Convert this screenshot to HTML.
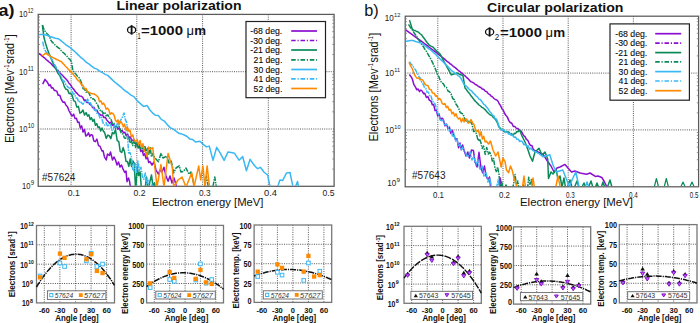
<!DOCTYPE html>
<html><head><meta charset="utf-8"><style>
html,body{margin:0;padding:0;background:#fff;width:700px;height:323px;overflow:hidden}
svg{display:block}
text{font-family:"Liberation Sans", sans-serif}
</style></head><body>
<svg width="700" height="323" viewBox="0 0 700 323">
<rect width="700" height="323" fill="#fff"/>
<line x1="71.1" y1="14.4" x2="71.1" y2="186.3" stroke="#444" stroke-width="0.9" stroke-dasharray="1,1.2"/>
<line x1="136.8" y1="14.4" x2="136.8" y2="186.3" stroke="#444" stroke-width="0.9" stroke-dasharray="1,1.2"/>
<line x1="202.6" y1="14.4" x2="202.6" y2="186.3" stroke="#444" stroke-width="0.9" stroke-dasharray="1,1.2"/>
<line x1="268.3" y1="14.4" x2="268.3" y2="186.3" stroke="#444" stroke-width="0.9" stroke-dasharray="1,1.2"/>
<line x1="38.2" y1="71.7" x2="334.1" y2="71.7" stroke="#444" stroke-width="0.9" stroke-dasharray="1,1.2"/>
<line x1="38.2" y1="129.0" x2="334.1" y2="129.0" stroke="#444" stroke-width="0.9" stroke-dasharray="1,1.2"/>
<rect x="38.2" y="14.4" width="295.90000000000003" height="171.9" fill="none" stroke="#5a5a5a" stroke-width="1.25"/>
<line x1="38.2" y1="169.1" x2="40.0" y2="169.1" stroke="#777" stroke-width="0.8"/>
<line x1="334.1" y1="169.1" x2="332.3" y2="169.1" stroke="#777" stroke-width="0.8"/>
<line x1="38.2" y1="159.0" x2="40.0" y2="159.0" stroke="#777" stroke-width="0.8"/>
<line x1="334.1" y1="159.0" x2="332.3" y2="159.0" stroke="#777" stroke-width="0.8"/>
<line x1="38.2" y1="151.8" x2="40.0" y2="151.8" stroke="#777" stroke-width="0.8"/>
<line x1="334.1" y1="151.8" x2="332.3" y2="151.8" stroke="#777" stroke-width="0.8"/>
<line x1="38.2" y1="146.2" x2="40.0" y2="146.2" stroke="#777" stroke-width="0.8"/>
<line x1="334.1" y1="146.2" x2="332.3" y2="146.2" stroke="#777" stroke-width="0.8"/>
<line x1="38.2" y1="141.7" x2="40.0" y2="141.7" stroke="#777" stroke-width="0.8"/>
<line x1="334.1" y1="141.7" x2="332.3" y2="141.7" stroke="#777" stroke-width="0.8"/>
<line x1="38.2" y1="137.9" x2="40.0" y2="137.9" stroke="#777" stroke-width="0.8"/>
<line x1="334.1" y1="137.9" x2="332.3" y2="137.9" stroke="#777" stroke-width="0.8"/>
<line x1="38.2" y1="134.6" x2="40.0" y2="134.6" stroke="#777" stroke-width="0.8"/>
<line x1="334.1" y1="134.6" x2="332.3" y2="134.6" stroke="#777" stroke-width="0.8"/>
<line x1="38.2" y1="131.6" x2="40.0" y2="131.6" stroke="#777" stroke-width="0.8"/>
<line x1="334.1" y1="131.6" x2="332.3" y2="131.6" stroke="#777" stroke-width="0.8"/>
<line x1="38.2" y1="111.8" x2="40.0" y2="111.8" stroke="#777" stroke-width="0.8"/>
<line x1="334.1" y1="111.8" x2="332.3" y2="111.8" stroke="#777" stroke-width="0.8"/>
<line x1="38.2" y1="101.7" x2="40.0" y2="101.7" stroke="#777" stroke-width="0.8"/>
<line x1="334.1" y1="101.7" x2="332.3" y2="101.7" stroke="#777" stroke-width="0.8"/>
<line x1="38.2" y1="94.5" x2="40.0" y2="94.5" stroke="#777" stroke-width="0.8"/>
<line x1="334.1" y1="94.5" x2="332.3" y2="94.5" stroke="#777" stroke-width="0.8"/>
<line x1="38.2" y1="88.9" x2="40.0" y2="88.9" stroke="#777" stroke-width="0.8"/>
<line x1="334.1" y1="88.9" x2="332.3" y2="88.9" stroke="#777" stroke-width="0.8"/>
<line x1="38.2" y1="84.4" x2="40.0" y2="84.4" stroke="#777" stroke-width="0.8"/>
<line x1="334.1" y1="84.4" x2="332.3" y2="84.4" stroke="#777" stroke-width="0.8"/>
<line x1="38.2" y1="80.6" x2="40.0" y2="80.6" stroke="#777" stroke-width="0.8"/>
<line x1="334.1" y1="80.6" x2="332.3" y2="80.6" stroke="#777" stroke-width="0.8"/>
<line x1="38.2" y1="77.3" x2="40.0" y2="77.3" stroke="#777" stroke-width="0.8"/>
<line x1="334.1" y1="77.3" x2="332.3" y2="77.3" stroke="#777" stroke-width="0.8"/>
<line x1="38.2" y1="74.3" x2="40.0" y2="74.3" stroke="#777" stroke-width="0.8"/>
<line x1="334.1" y1="74.3" x2="332.3" y2="74.3" stroke="#777" stroke-width="0.8"/>
<line x1="38.2" y1="54.5" x2="40.0" y2="54.5" stroke="#777" stroke-width="0.8"/>
<line x1="334.1" y1="54.5" x2="332.3" y2="54.5" stroke="#777" stroke-width="0.8"/>
<line x1="38.2" y1="44.4" x2="40.0" y2="44.4" stroke="#777" stroke-width="0.8"/>
<line x1="334.1" y1="44.4" x2="332.3" y2="44.4" stroke="#777" stroke-width="0.8"/>
<line x1="38.2" y1="37.2" x2="40.0" y2="37.2" stroke="#777" stroke-width="0.8"/>
<line x1="334.1" y1="37.2" x2="332.3" y2="37.2" stroke="#777" stroke-width="0.8"/>
<line x1="38.2" y1="31.6" x2="40.0" y2="31.6" stroke="#777" stroke-width="0.8"/>
<line x1="334.1" y1="31.6" x2="332.3" y2="31.6" stroke="#777" stroke-width="0.8"/>
<line x1="38.2" y1="27.1" x2="40.0" y2="27.1" stroke="#777" stroke-width="0.8"/>
<line x1="334.1" y1="27.1" x2="332.3" y2="27.1" stroke="#777" stroke-width="0.8"/>
<line x1="38.2" y1="23.3" x2="40.0" y2="23.3" stroke="#777" stroke-width="0.8"/>
<line x1="334.1" y1="23.3" x2="332.3" y2="23.3" stroke="#777" stroke-width="0.8"/>
<line x1="38.2" y1="20.0" x2="40.0" y2="20.0" stroke="#777" stroke-width="0.8"/>
<line x1="334.1" y1="20.0" x2="332.3" y2="20.0" stroke="#777" stroke-width="0.8"/>
<line x1="38.2" y1="17.0" x2="40.0" y2="17.0" stroke="#777" stroke-width="0.8"/>
<line x1="334.1" y1="17.0" x2="332.3" y2="17.0" stroke="#777" stroke-width="0.8"/>
<text x="-1.5" y="15.5" font-size="17" font-weight="bold" text-anchor="start" fill="#111" textLength="16" lengthAdjust="spacingAndGlyphs" >a)</text>
<text x="116.5" y="10.2" font-size="13.3" font-weight="bold" text-anchor="start" fill="#111" textLength="125" lengthAdjust="spacingAndGlyphs" >Linear polarization</text>
<ellipse cx="131.6" cy="29.9" rx="4.1" ry="3.3" fill="none" stroke="#111" stroke-width="1.3"/><line x1="131.6" y1="25.1" x2="131.6" y2="34.7" stroke="#111" stroke-width="1.8"/>
<text x="137.6" y="38.6" font-size="8.5" font-weight="normal" text-anchor="start" fill="#111" textLength="3.2" lengthAdjust="spacingAndGlyphs" font-family="Liberation Serif">1</text>
<text x="141" y="34.5" font-size="13" font-weight="bold" text-anchor="start" fill="#111" textLength="42" lengthAdjust="spacingAndGlyphs" >=1000</text>
<text x="186.5" y="34.5" font-size="12" font-weight="normal" text-anchor="start" fill="#111" textLength="7.5" lengthAdjust="spacingAndGlyphs" >μ</text>
<text x="194.3" y="34.5" font-size="13" font-weight="bold" text-anchor="start" fill="#111" textLength="11.8" lengthAdjust="spacingAndGlyphs" >m</text>
<text x="19" y="17" font-size="9.3" font-weight="normal" text-anchor="start" fill="#222" textLength="8.4" lengthAdjust="spacingAndGlyphs" >10</text>
<text x="27.7" y="13.094" font-size="6.324000000000001" font-weight="normal" text-anchor="start" fill="#222" textLength="5.8" lengthAdjust="spacingAndGlyphs" >12</text>
<text x="19" y="74.7" font-size="9.3" font-weight="normal" text-anchor="start" fill="#222" textLength="8.4" lengthAdjust="spacingAndGlyphs" >10</text>
<text x="27.7" y="70.794" font-size="6.324000000000001" font-weight="normal" text-anchor="start" fill="#222" textLength="6.2" lengthAdjust="spacingAndGlyphs" >11</text>
<text x="19" y="131.8" font-size="9.3" font-weight="normal" text-anchor="start" fill="#222" textLength="8.4" lengthAdjust="spacingAndGlyphs" >10</text>
<text x="27.7" y="127.894" font-size="6.324000000000001" font-weight="normal" text-anchor="start" fill="#222" textLength="6.5" lengthAdjust="spacingAndGlyphs" >10</text>
<text x="22" y="188.8" font-size="9.3" font-weight="normal" text-anchor="start" fill="#222" textLength="8.4" lengthAdjust="spacingAndGlyphs" >10</text>
<text x="30.7" y="184.894" font-size="6.324000000000001" font-weight="normal" text-anchor="start" fill="#222" textLength="3.4" lengthAdjust="spacingAndGlyphs" >9</text>
<text x="67.7" y="196" font-size="8.5" font-weight="normal" text-anchor="start" fill="#222" textLength="12.0" lengthAdjust="spacingAndGlyphs" >0.1</text>
<text x="133.5" y="196" font-size="8.5" font-weight="normal" text-anchor="start" fill="#222" textLength="12.0" lengthAdjust="spacingAndGlyphs" >0.2</text>
<text x="199" y="196" font-size="8.5" font-weight="normal" text-anchor="start" fill="#222" textLength="11.5" lengthAdjust="spacingAndGlyphs" >0.3</text>
<text x="264" y="196" font-size="8.5" font-weight="normal" text-anchor="start" fill="#222" textLength="13" lengthAdjust="spacingAndGlyphs" >0.4</text>
<text x="322.5" y="196" font-size="8.5" font-weight="normal" text-anchor="start" fill="#222" textLength="11.899999999999977" lengthAdjust="spacingAndGlyphs" >0.5</text>
<text x="152" y="205.5" font-size="11" font-weight="normal" text-anchor="start" fill="#111" textLength="111.5" lengthAdjust="spacingAndGlyphs" >Electron energy [MeV]</text>
<text x="42" y="180.9" font-size="10" font-weight="normal" text-anchor="start" fill="#222" textLength="33.4" lengthAdjust="spacingAndGlyphs" >#57624</text>
<g transform="translate(13.8,143) rotate(-90)">
<text x="0" y="0" font-size="12" font-weight="normal" text-anchor="start" fill="#111" textLength="73" lengthAdjust="spacingAndGlyphs" >Electrons [Mev</text>
<text x="73.5" y="-5" font-size="7" font-weight="normal" text-anchor="start" fill="#111" textLength="5" lengthAdjust="spacingAndGlyphs" >-1</text>
<text x="79" y="0" font-size="12" font-weight="normal" text-anchor="start" fill="#111" textLength="21" lengthAdjust="spacingAndGlyphs" >srad</text>
<text x="100.5" y="-5" font-size="7" font-weight="normal" text-anchor="start" fill="#111" textLength="5" lengthAdjust="spacingAndGlyphs" >-1</text>
<text x="105.5" y="0" font-size="12" font-weight="normal" text-anchor="start" fill="#111" textLength="3.5" lengthAdjust="spacingAndGlyphs" >]</text>
</g>
<clipPath id="ca"><rect x="38.8" y="14.4" width="294.7" height="171.4"/></clipPath><g clip-path="url(#ca)">
<polyline points="38.9,53.3 40.4,54.4 41.8,55.8 43.2,56.9 44.7,58.1 46.1,59.6 47.6,60.6 49.0,62.0 50.5,63.1 52.0,64.7 53.6,66.4 55.1,67.7 56.7,69.5 58.2,70.8 59.8,72.8 61.3,74.3 62.9,75.8 64.4,77.4 66.0,79.1 67.5,80.7 69.1,83.5 70.6,84.8 72.2,87.7 73.7,89.1 75.2,91.5 76.8,93.1 78.3,94.7 79.9,96.1 81.4,96.2 82.8,97.5 84.2,100.3 85.6,100.0 87.0,102.6 88.4,102.5 89.9,104.3 91.3,105.3 92.7,107.7 94.1,107.5 95.5,110.5 96.9,110.1 98.3,113.3 99.7,114.2 101.1,115.3 102.5,114.9 103.9,117.6 105.3,117.3 106.7,119.9 108.1,121.4 109.5,123.2 110.9,122.2 112.3,125.4 113.7,124.3 115.1,127.8 116.5,126.4 117.9,129.1 119.3,127.8 120.7,131.4 122.1,130.4 123.5,132.9 124.9,132.2 126.2,135.7 127.6,134.1 128.9,137.9 130.2,136.9 131.6,139.9 132.9,140.4 134.2,139.8 135.5,144.1 136.8,143.4 138.2,147.5 139.5,146.0 140.8,151.5 142.1,150.1 143.4,155.4 144.7,153.7 146.1,158.8 147.4,156.8 148.7,162.6 150.0,161.7 152.0,165.0 154.0,162.0 156.0,170.0 158.4,174.2 160.0,170.0 162.0,172.0 164.0,167.3 166.0,176.0 168.1,181.2 170.0,176.0 172.0,183.0 174.0,178.0 177.9,191.0" fill="none" stroke="#8a0fd0" stroke-width="1.5" stroke-linejoin="round" opacity="1"/>
<polyline points="42.7,84.1 45.0,79.4 46.3,80.9 47.7,82.8 49.0,85.7 50.3,84.9 51.6,88.1 52.9,87.8 54.3,90.4 55.6,90.6 56.9,91.4 58.2,95.3 59.8,95.3 61.3,99.4 62.9,102.2 64.4,101.9 66.0,105.3 67.5,106.7 69.1,111.0 70.6,113.7 72.2,116.0 73.7,114.2 75.0,118.6 76.4,118.2 77.7,122.4 79.0,122.0 80.3,128.1 81.7,125.9 83.0,132.0 84.5,129.5 85.8,136.1 87.2,135.1 88.5,132.8 89.8,136.4 91.1,134.6 92.5,135.2 93.8,140.8 95.3,141.7 96.9,139.1 98.5,145.6 100.0,146.2 102.0,151.0 103.1,150.8 104.5,157.0 106.2,160.0 107.5,154.0 109.3,155.5 110.5,152.0 112.5,160.0 114.0,157.0 115.5,160.0 117.0,165.0 118.5,162.0 120.0,167.0 121.5,165.0 123.2,169.4 124.7,172.5 126.0,171.0 127.0,181.7 128.5,178.0 129.5,181.0 131.0,191.0" fill="none" stroke="#8a0fd0" stroke-width="1.5" stroke-linejoin="round" opacity="1"/>
<polyline points="42.4,25.2 44.0,37.8 45.7,43.8 47.4,49.2 48.9,53.2 50.4,56.6 52.0,60.6 53.5,64.4 55.0,67.5 56.6,70.2 58.1,73.5 59.7,75.5 61.3,79.1 62.9,82.1 64.4,86.9 66.0,89.2 67.5,89.6 69.1,93.6 70.6,93.3 72.2,95.5 73.7,100.7 75.3,101.6 76.8,107.1 78.4,106.3 79.9,113.2 81.4,112.3 83.0,110.0 84.5,115.1 86.1,112.6 87.6,116.1 88.9,114.7 90.2,119.6 91.5,117.7 92.8,121.2 94.1,119.4 95.4,125.3 96.7,123.6 98.0,127.6 99.3,126.8 100.7,131.0 102.0,128.0 103.3,131.0 104.7,132.8 106.2,138.4 107.8,135.1 109.3,135.8 110.8,138.7 112.4,132.5 114.0,133.8 115.5,129.5 117.2,140.6 118.8,141.6 120.2,151.5 121.7,152.5 123.2,147.6 124.6,152.1 126.0,161.5 127.5,161.6 128.8,166.4 130.2,158.8 131.5,166.5 132.9,161.0 134.2,163.2 135.7,191.0 137.2,166.4 138.6,175.6 140.1,171.8 141.6,191.0 143.2,191.0 144.8,191.0 146.5,176.9 148.3,191.0 150.0,181.1 151.5,174.9 153.0,186.9 154.5,182.8 156.0,191.0" fill="none" stroke="#0a8a58" stroke-width="1.5" stroke-linejoin="round" opacity="1"/>
<polyline points="42.4,25.1 44.3,30.3 45.6,32.0 47.0,33.7 48.4,35.0 49.7,36.9 50.5,39.7 52.0,41.9 53.6,43.5 55.1,45.0 56.7,46.4 58.2,47.7 59.8,48.8 61.3,50.7 62.9,52.3 64.4,53.5 66.0,55.3 67.3,56.6 68.7,58.5 70.1,59.6 71.4,61.6 72.9,70.8 74.3,72.8 75.7,73.8 77.1,75.9 78.5,76.7 79.9,79.0 81.5,82.9 83.0,88.5 84.5,89.1 86.1,92.2 87.7,91.4 89.2,93.5 90.6,97.1 92.0,98.9 93.3,98.7 94.7,100.0 96.1,102.7 97.5,104.3 98.8,108.0 100.2,110.5 101.6,110.1 103.1,113.7 104.7,112.2 106.2,115.8 107.8,114.9 109.3,117.9 110.8,118.5 112.4,123.4 114.0,123.2 115.5,127.9 117.4,126.3 119.3,126.8 121.2,133.0 123.0,134.2 124.4,138.0 125.8,138.2 127.2,136.1 128.6,136.9 130.0,142.9 131.3,140.0 132.7,145.6 134.1,141.3 135.5,147.5 136.9,142.2 138.3,147.9 139.6,144.8 140.9,148.7 142.3,146.5 143.6,151.8 144.9,145.7 146.2,152.9 147.5,148.3 148.8,154.2 150.2,147.8 151.5,156.9 152.8,153.4 155.0,158.0 158.4,161.7 161.0,153.4 163.0,158.0 166.7,156.1 169.0,163.0 171.0,160.0 173.7,172.9 176.0,168.0 179.2,165.9 181.0,172.0 183.4,171.5 186.0,168.0 189.0,174.2 191.0,172.0 193.2,181.2 196.0,191.0 204.0,191.0 206.4,176.0 209.0,191.0 212.0,191.0 214.8,177.0 217.0,191.0" fill="none" stroke="#0a8a58" stroke-width="1.5" stroke-linejoin="round" stroke-dasharray="5,1,1.5,1" opacity="1"/>
<polyline points="38.4,34.4 41.3,34.6 44.3,34.8 47.1,35.2 49.9,36.5 52.6,37.3 55.4,38.2 58.2,38.7 61.0,40.7 63.8,43.0 66.6,45.4 69.4,47.0 72.2,49.3 75.0,51.7 77.9,54.6 80.7,57.3 83.5,59.4 86.4,62.4 89.2,64.1 91.8,66.4 94.3,68.1 96.9,69.1 99.6,71.1 102.3,72.5 105.1,74.4 107.8,75.4 110.6,78.1 113.4,80.9 116.1,83.2 118.9,85.4 121.7,87.7 124.8,90.6 127.8,92.5 130.9,95.1 134.0,96.7 137.0,100.6 140.2,103.4 143.4,106.4 147.2,105.6 149.9,110.0 152.7,113.1 155.5,115.3 158.3,115.5 161.3,119.4 164.3,121.1 167.2,124.6 170.2,127.6 173.2,129.2 176.0,131.2 178.8,133.3 181.5,133.9 184.3,135.0 187.1,136.5 189.9,139.1 192.7,139.6 195.5,142.0 200.0,141.2 203.2,144.4 206.5,146.9 209.3,146.1 213.0,160.4 216.7,147.3 220.4,153.3 224.1,160.4 227.9,152.0 231.2,152.6 234.4,153.2 239.0,160.2 242.7,156.6 246.4,170.8 250.1,159.3 252.6,163.0 255.1,166.3 257.6,168.7 260.4,167.3 264.1,172.2 267.8,175.3 270.6,190.1 273.4,191.1 276.2,191.3 279.9,180.0 282.6,180.6 286.4,173.1 290.0,172.5 293.8,190.8 297.5,181.5 299.4,191.0" fill="none" stroke="#3ab8f4" stroke-width="1.5" stroke-linejoin="round" opacity="1"/>
<polyline points="42.7,41.7 44.3,49.1 45.8,51.4 47.4,53.3 49.0,55.0 50.5,57.1 52.0,59.7 53.6,62.7 55.1,65.3 56.7,68.4 58.2,70.7 59.8,74.5 61.3,76.7 62.9,80.7 64.4,81.1 66.0,84.7 67.5,86.6 69.1,88.0 70.6,88.2 71.9,90.4 73.3,94.3 74.7,93.9 76.0,98.1 77.3,98.3 78.7,102.1 80.1,101.1 81.4,102.9 83.0,104.2 84.5,101.7 86.0,102.1 87.6,99.1 89.0,103.4 90.4,102.8 91.7,106.3 93.1,105.9 94.5,110.3 95.9,109.8 97.2,114.0 98.6,113.9 100.0,118.1 101.5,117.3 103.1,123.0 104.7,125.1 106.2,122.7 107.7,126.6 109.1,124.2 110.5,124.4 112.0,130.2 113.4,128.4 114.7,125.1 116.1,127.4 117.5,122.9 118.8,125.6 120.2,120.8 122.1,117.9 124.0,112.9 125.3,119.4 126.7,122.6 128.6,153.0 129.9,152.5 131.3,156.4 132.7,169.2 134.0,170.7 135.3,163.6 136.6,172.3 137.9,161.0 139.4,170.5 140.9,167.2 142.3,176.5 143.8,179.3 145.3,173.0 146.7,184.5 148.0,180.2 149.4,187.6 150.8,191.0 152.1,184.2 153.5,191.0" fill="none" stroke="#3ab8f4" stroke-width="1.5" stroke-linejoin="round" stroke-dasharray="5,1,1.5,1" opacity="1"/>
<polyline points="42.0,55.7 43.9,54.6 45.8,53.0 47.4,54.5 49.0,55.4 50.5,56.4 52.0,57.0 53.5,58.0 55.0,58.5 56.6,59.5 58.1,60.0 59.7,61.1 61.3,61.5 62.7,63.4 64.2,64.6 65.6,66.5 67.1,67.7 68.5,69.7 70.0,70.6 71.4,72.7 72.8,73.5 74.2,75.8 75.5,76.9 76.9,79.2 78.3,80.6 79.8,81.6 81.4,84.7 82.9,85.3 84.5,88.6 86.0,88.4 87.4,91.3 88.7,92.3 90.1,92.9 91.5,93.7 92.8,93.7 94.2,94.0 95.5,94.8 96.9,96.0 98.2,97.3 99.6,101.7 100.9,100.9 102.2,104.3 103.5,103.1 104.9,105.5 106.2,109.2 107.5,108.1 108.8,109.9 110.1,114.4 111.5,112.8 112.8,113.5 114.1,115.2 115.4,120.3 116.7,121.8 118.0,119.8 119.3,124.3 120.7,121.5 122.0,123.3 123.3,126.8 124.6,124.1 126.0,130.2 127.3,126.7 128.6,131.0 130.0,130.2 131.4,136.8 132.8,134.9 134.2,140.4 135.7,141.7 137.2,139.7 138.6,144.6 140.1,140.4 141.6,147.7 142.9,143.7 144.3,150.7 145.7,152.1 147.0,156.7 148.5,146.9 150.0,149.0 152.8,147.8 157.0,187.0 161.0,164.5 164.0,187.0 168.1,153.4 172.3,167.3 173.7,187.0 178.0,180.0 182.0,177.0 186.0,187.0 191.8,172.9 194.0,187.0 198.7,165.9 200.7,180.0 202.9,165.9 205.0,187.0 207.1,165.9 210.0,191.0" fill="none" stroke="#ff8a00" stroke-width="1.5" stroke-linejoin="round" opacity="1"/>
</g>
<rect x="246" y="21.5" width="79.5" height="76.2" fill="#fff" stroke="#222" stroke-width="1.2"/>
<text x="250.3" y="34.3" font-size="9.8" font-weight="normal" text-anchor="start" fill="#000" textLength="32" lengthAdjust="spacingAndGlyphs" stroke="#333" stroke-width="0.12">-68 deg.</text>
<line x1="291.2" y1="31" x2="317" y2="31" stroke="#8a0fd0" stroke-width="1.7"/>
<text x="250.3" y="43.8" font-size="9.8" font-weight="normal" text-anchor="start" fill="#000" textLength="32" lengthAdjust="spacingAndGlyphs" stroke="#333" stroke-width="0.12">-30 deg.</text>
<line x1="291.2" y1="40.5" x2="317" y2="40.5" stroke="#8a0fd0" stroke-width="1.7" stroke-dasharray="4.5,1.8,1.2,1.8"/>
<text x="250.3" y="53.3" font-size="9.8" font-weight="normal" text-anchor="start" fill="#000" textLength="32" lengthAdjust="spacingAndGlyphs" stroke="#333" stroke-width="0.12">-21 deg.</text>
<line x1="291.2" y1="50" x2="317" y2="50" stroke="#0a8a58" stroke-width="1.7"/>
<text x="253.60000000000002" y="63.099999999999994" font-size="9.8" font-weight="normal" text-anchor="start" fill="#000" textLength="28.7" lengthAdjust="spacingAndGlyphs" stroke="#333" stroke-width="0.12">21 deg.</text>
<line x1="291.2" y1="59.8" x2="317" y2="59.8" stroke="#0a8a58" stroke-width="1.7" stroke-dasharray="4.5,1.8,1.2,1.8"/>
<text x="253.60000000000002" y="72.8" font-size="9.8" font-weight="normal" text-anchor="start" fill="#000" textLength="28.7" lengthAdjust="spacingAndGlyphs" stroke="#333" stroke-width="0.12">30 deg.</text>
<line x1="291.2" y1="69.5" x2="317" y2="69.5" stroke="#3ab8f4" stroke-width="1.7"/>
<text x="253.60000000000002" y="82.2" font-size="9.8" font-weight="normal" text-anchor="start" fill="#000" textLength="28.7" lengthAdjust="spacingAndGlyphs" stroke="#333" stroke-width="0.12">41 deg.</text>
<line x1="291.2" y1="78.9" x2="317" y2="78.9" stroke="#3ab8f4" stroke-width="1.7" stroke-dasharray="4.5,1.8,1.2,1.8"/>
<text x="253.60000000000002" y="91.8" font-size="9.8" font-weight="normal" text-anchor="start" fill="#000" textLength="28.7" lengthAdjust="spacingAndGlyphs" stroke="#333" stroke-width="0.12">52 deg.</text>
<line x1="291.2" y1="88.5" x2="317" y2="88.5" stroke="#ff8a00" stroke-width="1.7"/>
<line x1="437.8" y1="16.2" x2="437.8" y2="186.8" stroke="#444" stroke-width="0.9" stroke-dasharray="1,1.2"/>
<line x1="503.0" y1="16.2" x2="503.0" y2="186.8" stroke="#444" stroke-width="0.9" stroke-dasharray="1,1.2"/>
<line x1="568.2" y1="16.2" x2="568.2" y2="186.8" stroke="#444" stroke-width="0.9" stroke-dasharray="1,1.2"/>
<line x1="633.4" y1="16.2" x2="633.4" y2="186.8" stroke="#444" stroke-width="0.9" stroke-dasharray="1,1.2"/>
<line x1="405.2" y1="73.1" x2="698.6" y2="73.1" stroke="#444" stroke-width="0.9" stroke-dasharray="1,1.2"/>
<line x1="405.2" y1="129.9" x2="698.6" y2="129.9" stroke="#444" stroke-width="0.9" stroke-dasharray="1,1.2"/>
<rect x="405.2" y="16.2" width="293.40000000000003" height="170.60000000000002" fill="none" stroke="#5a5a5a" stroke-width="1.25"/>
<line x1="405.2" y1="169.7" x2="407.0" y2="169.7" stroke="#777" stroke-width="0.8"/>
<line x1="698.6" y1="169.7" x2="696.8000000000001" y2="169.7" stroke="#777" stroke-width="0.8"/>
<line x1="405.2" y1="159.7" x2="407.0" y2="159.7" stroke="#777" stroke-width="0.8"/>
<line x1="698.6" y1="159.7" x2="696.8000000000001" y2="159.7" stroke="#777" stroke-width="0.8"/>
<line x1="405.2" y1="152.6" x2="407.0" y2="152.6" stroke="#777" stroke-width="0.8"/>
<line x1="698.6" y1="152.6" x2="696.8000000000001" y2="152.6" stroke="#777" stroke-width="0.8"/>
<line x1="405.2" y1="147.1" x2="407.0" y2="147.1" stroke="#777" stroke-width="0.8"/>
<line x1="698.6" y1="147.1" x2="696.8000000000001" y2="147.1" stroke="#777" stroke-width="0.8"/>
<line x1="405.2" y1="142.5" x2="407.0" y2="142.5" stroke="#777" stroke-width="0.8"/>
<line x1="698.6" y1="142.5" x2="696.8000000000001" y2="142.5" stroke="#777" stroke-width="0.8"/>
<line x1="405.2" y1="138.7" x2="407.0" y2="138.7" stroke="#777" stroke-width="0.8"/>
<line x1="698.6" y1="138.7" x2="696.8000000000001" y2="138.7" stroke="#777" stroke-width="0.8"/>
<line x1="405.2" y1="135.4" x2="407.0" y2="135.4" stroke="#777" stroke-width="0.8"/>
<line x1="698.6" y1="135.4" x2="696.8000000000001" y2="135.4" stroke="#777" stroke-width="0.8"/>
<line x1="405.2" y1="132.5" x2="407.0" y2="132.5" stroke="#777" stroke-width="0.8"/>
<line x1="698.6" y1="132.5" x2="696.8000000000001" y2="132.5" stroke="#777" stroke-width="0.8"/>
<line x1="405.2" y1="112.8" x2="407.0" y2="112.8" stroke="#777" stroke-width="0.8"/>
<line x1="698.6" y1="112.8" x2="696.8000000000001" y2="112.8" stroke="#777" stroke-width="0.8"/>
<line x1="405.2" y1="102.8" x2="407.0" y2="102.8" stroke="#777" stroke-width="0.8"/>
<line x1="698.6" y1="102.8" x2="696.8000000000001" y2="102.8" stroke="#777" stroke-width="0.8"/>
<line x1="405.2" y1="95.7" x2="407.0" y2="95.7" stroke="#777" stroke-width="0.8"/>
<line x1="698.6" y1="95.7" x2="696.8000000000001" y2="95.7" stroke="#777" stroke-width="0.8"/>
<line x1="405.2" y1="90.2" x2="407.0" y2="90.2" stroke="#777" stroke-width="0.8"/>
<line x1="698.6" y1="90.2" x2="696.8000000000001" y2="90.2" stroke="#777" stroke-width="0.8"/>
<line x1="405.2" y1="85.7" x2="407.0" y2="85.7" stroke="#777" stroke-width="0.8"/>
<line x1="698.6" y1="85.7" x2="696.8000000000001" y2="85.7" stroke="#777" stroke-width="0.8"/>
<line x1="405.2" y1="81.9" x2="407.0" y2="81.9" stroke="#777" stroke-width="0.8"/>
<line x1="698.6" y1="81.9" x2="696.8000000000001" y2="81.9" stroke="#777" stroke-width="0.8"/>
<line x1="405.2" y1="78.6" x2="407.0" y2="78.6" stroke="#777" stroke-width="0.8"/>
<line x1="698.6" y1="78.6" x2="696.8000000000001" y2="78.6" stroke="#777" stroke-width="0.8"/>
<line x1="405.2" y1="75.7" x2="407.0" y2="75.7" stroke="#777" stroke-width="0.8"/>
<line x1="698.6" y1="75.7" x2="696.8000000000001" y2="75.7" stroke="#777" stroke-width="0.8"/>
<line x1="405.2" y1="55.9" x2="407.0" y2="55.9" stroke="#777" stroke-width="0.8"/>
<line x1="698.6" y1="55.9" x2="696.8000000000001" y2="55.9" stroke="#777" stroke-width="0.8"/>
<line x1="405.2" y1="45.9" x2="407.0" y2="45.9" stroke="#777" stroke-width="0.8"/>
<line x1="698.6" y1="45.9" x2="696.8000000000001" y2="45.9" stroke="#777" stroke-width="0.8"/>
<line x1="405.2" y1="38.8" x2="407.0" y2="38.8" stroke="#777" stroke-width="0.8"/>
<line x1="698.6" y1="38.8" x2="696.8000000000001" y2="38.8" stroke="#777" stroke-width="0.8"/>
<line x1="405.2" y1="33.3" x2="407.0" y2="33.3" stroke="#777" stroke-width="0.8"/>
<line x1="698.6" y1="33.3" x2="696.8000000000001" y2="33.3" stroke="#777" stroke-width="0.8"/>
<line x1="405.2" y1="28.8" x2="407.0" y2="28.8" stroke="#777" stroke-width="0.8"/>
<line x1="698.6" y1="28.8" x2="696.8000000000001" y2="28.8" stroke="#777" stroke-width="0.8"/>
<line x1="405.2" y1="25.0" x2="407.0" y2="25.0" stroke="#777" stroke-width="0.8"/>
<line x1="698.6" y1="25.0" x2="696.8000000000001" y2="25.0" stroke="#777" stroke-width="0.8"/>
<line x1="405.2" y1="21.7" x2="407.0" y2="21.7" stroke="#777" stroke-width="0.8"/>
<line x1="698.6" y1="21.7" x2="696.8000000000001" y2="21.7" stroke="#777" stroke-width="0.8"/>
<line x1="405.2" y1="18.8" x2="407.0" y2="18.8" stroke="#777" stroke-width="0.8"/>
<line x1="698.6" y1="18.8" x2="696.8000000000001" y2="18.8" stroke="#777" stroke-width="0.8"/>
<text x="364.3" y="15.9" font-size="17" font-weight="normal" text-anchor="start" fill="#111" textLength="14.5" lengthAdjust="spacingAndGlyphs" >b)</text>
<text x="487" y="12" font-size="13.3" font-weight="bold" text-anchor="start" fill="#111" textLength="136.5" lengthAdjust="spacingAndGlyphs" >Circular polarization</text>
<ellipse cx="489.6" cy="32" rx="4.1" ry="3.3" fill="none" stroke="#111" stroke-width="1.3"/><line x1="489.6" y1="27.3" x2="489.6" y2="36.6" stroke="#111" stroke-width="1.8"/>
<text x="494.8" y="40.3" font-size="8.5" font-weight="normal" text-anchor="start" fill="#111" textLength="4.5" lengthAdjust="spacingAndGlyphs" font-family="Liberation Serif">2</text>
<text x="500" y="36.5" font-size="13" font-weight="bold" text-anchor="start" fill="#111" textLength="42" lengthAdjust="spacingAndGlyphs" >=1000</text>
<text x="545.5" y="36.5" font-size="12" font-weight="normal" text-anchor="start" fill="#111" textLength="7.5" lengthAdjust="spacingAndGlyphs" >μ</text>
<text x="553.3" y="36.5" font-size="13" font-weight="bold" text-anchor="start" fill="#111" textLength="11.9" lengthAdjust="spacingAndGlyphs" >m</text>
<text x="384.8" y="20.9" font-size="9.1" font-weight="normal" text-anchor="start" fill="#222" textLength="9" lengthAdjust="spacingAndGlyphs" >10</text>
<text x="394.1" y="17.078" font-size="6.188000000000001" font-weight="normal" text-anchor="start" fill="#222" textLength="6.3" lengthAdjust="spacingAndGlyphs" >12</text>
<text x="385" y="76.3" font-size="9.1" font-weight="normal" text-anchor="start" fill="#222" textLength="9" lengthAdjust="spacingAndGlyphs" >10</text>
<text x="394.3" y="72.478" font-size="6.188000000000001" font-weight="normal" text-anchor="start" fill="#222" textLength="5.8" lengthAdjust="spacingAndGlyphs" >11</text>
<text x="385" y="132.8" font-size="9.1" font-weight="normal" text-anchor="start" fill="#222" textLength="9" lengthAdjust="spacingAndGlyphs" >10</text>
<text x="394.3" y="128.978" font-size="6.188000000000001" font-weight="normal" text-anchor="start" fill="#222" textLength="6.2" lengthAdjust="spacingAndGlyphs" >10</text>
<text x="387.3" y="186" font-size="9.1" font-weight="normal" text-anchor="start" fill="#222" textLength="9" lengthAdjust="spacingAndGlyphs" >10</text>
<text x="396.6" y="182.178" font-size="6.188000000000001" font-weight="normal" text-anchor="start" fill="#222" textLength="3.5" lengthAdjust="spacingAndGlyphs" >9</text>
<text x="433" y="197.5" font-size="8.5" font-weight="normal" text-anchor="start" fill="#222" textLength="11" lengthAdjust="spacingAndGlyphs" >0.1</text>
<text x="499" y="197.5" font-size="8.5" font-weight="normal" text-anchor="start" fill="#222" textLength="11" lengthAdjust="spacingAndGlyphs" >0.2</text>
<text x="566" y="197.5" font-size="8.5" font-weight="normal" text-anchor="start" fill="#222" textLength="8.700000000000045" lengthAdjust="spacingAndGlyphs" >0.3</text>
<text x="629" y="197.5" font-size="8.5" font-weight="normal" text-anchor="start" fill="#222" textLength="8.799999999999955" lengthAdjust="spacingAndGlyphs" >0.4</text>
<text x="689.8" y="197.5" font-size="8.5" font-weight="normal" text-anchor="start" fill="#222" textLength="8.700000000000045" lengthAdjust="spacingAndGlyphs" >0.5</text>
<text x="520" y="206.2" font-size="11" font-weight="normal" text-anchor="start" fill="#111" textLength="113" lengthAdjust="spacingAndGlyphs" >Electron energy [MeV]</text>
<text x="412" y="178.5" font-size="10" font-weight="normal" text-anchor="start" fill="#222" textLength="33.5" lengthAdjust="spacingAndGlyphs" >#57643</text>
<g transform="translate(377.8,141.5) rotate(-90)">
<text x="0" y="0" font-size="12" font-weight="normal" text-anchor="start" fill="#111" textLength="73" lengthAdjust="spacingAndGlyphs" >Electrons [Mev</text>
<text x="73.5" y="-5" font-size="7" font-weight="normal" text-anchor="start" fill="#111" textLength="5" lengthAdjust="spacingAndGlyphs" >-1</text>
<text x="79" y="0" font-size="12" font-weight="normal" text-anchor="start" fill="#111" textLength="21" lengthAdjust="spacingAndGlyphs" >srad</text>
<text x="100.5" y="-5" font-size="7" font-weight="normal" text-anchor="start" fill="#111" textLength="5" lengthAdjust="spacingAndGlyphs" >-1</text>
<text x="105.5" y="0" font-size="12" font-weight="normal" text-anchor="start" fill="#111" textLength="3.5" lengthAdjust="spacingAndGlyphs" >]</text>
</g>
<clipPath id="cb"><rect x="405.8" y="16.2" width="292.2" height="170"/></clipPath><g clip-path="url(#cb)">
<polyline points="404.9,29.3 406.3,30.3 407.7,31.3 409.1,32.3 410.5,33.4 411.9,34.3 413.2,35.4 414.6,36.3 416.0,37.3 417.4,38.4 418.8,39.4 420.2,40.4 421.6,41.4 422.9,42.3 424.2,43.5 425.6,44.4 426.9,45.3 428.2,46.4 429.5,47.5 430.8,48.4 432.1,49.5 433.4,50.3 434.8,51.4 436.1,52.4 437.4,53.5 438.8,54.6 440.2,55.7 441.6,56.7 443.0,57.9 444.4,58.9 445.7,60.2 447.1,61.3 448.5,62.3 449.9,63.6 451.3,64.5 452.7,65.8 454.1,66.9 455.5,67.9 456.9,69.1 458.2,70.3 459.6,71.3 461.0,72.6 462.4,73.5 463.9,75.0 465.3,76.1 466.8,77.7 468.3,78.9 469.7,80.6 471.2,81.9 472.6,82.3 474.0,83.2 475.3,84.5 476.7,85.0 478.1,86.1 479.5,87.0 480.8,87.5 482.2,88.9 483.6,89.2 485.2,91.1 486.8,91.8 488.4,93.9 490.0,94.7 491.3,96.3 492.6,96.9 493.9,98.5 495.3,99.5 496.6,99.9 497.9,101.0 499.2,103.8 500.6,105.6 501.9,108.8 503.3,110.3 504.6,113.5 506.0,115.5 507.3,116.9 508.7,120.4 510.2,122.5 511.8,123.2 513.3,126.4 514.8,126.4 516.4,128.4 518.0,128.5 519.5,130.4 520.9,130.9 522.3,133.0 523.6,135.6 525.0,136.6 526.4,139.4 527.8,140.3 529.2,143.5 530.6,145.6 531.9,145.4 533.3,149.5 534.7,150.3 538.0,152.0 543.3,154.7 548.0,162.0 551.0,166.0 554.1,172.0 557.0,168.0 560.0,167.0 565.0,164.4 568.0,168.0 571.5,172.0 575.0,171.0 580.0,173.0 586.6,174.2 590.0,173.0 595.3,176.4 598.0,176.0 601.8,177.5 604.0,181.0 606.0,185.0 608.0,191.0" fill="none" stroke="#8a0fd0" stroke-width="1.5" stroke-linejoin="round" opacity="1"/>
<polyline points="409.3,74.5 410.9,76.4 412.4,79.2 413.9,84.7 415.5,87.1 416.8,89.8 418.2,89.0 419.5,91.6 420.8,90.0 422.1,91.0 423.5,93.7 424.8,93.2 426.4,97.4 427.9,96.6 429.4,100.4 431.0,101.0 432.3,104.8 433.7,104.6 435.0,110.5 436.3,110.1 437.7,115.9 439.0,113.8 440.5,120.1 442.0,118.1 443.4,119.6 444.9,125.8 446.4,124.1 447.9,128.3 449.4,127.0 450.9,133.4 452.4,130.4 453.9,135.8 455.5,139.3 457.0,138.8 458.6,147.8 460.0,142.9 461.3,149.8 462.6,144.9 464.0,150.0 466.0,156.0 467.8,152.0 469.5,158.0 471.5,150.0 473.4,150.4 475.0,162.0 477.1,167.0 479.0,152.3 481.0,168.0 482.7,172.7 484.5,166.0 486.0,176.0 488.2,180.0 489.5,177.0 491.0,191.0 499.0,191.0 500.3,178.0 502.0,191.0" fill="none" stroke="#8a0fd0" stroke-width="1.5" stroke-linejoin="round" opacity="1"/>
<polyline points="409.5,20.1 410.9,24.6 412.3,29.2 413.7,30.1 415.1,30.5 416.5,31.5 417.9,31.8 419.8,33.5 421.6,34.8 423.1,37.1 424.6,38.9 426.0,41.0 427.5,43.1 429.0,44.9 430.9,46.1 432.7,46.9 434.1,48.2 435.5,49.7 436.9,51.3 438.3,52.4 440.2,54.2 441.6,57.0 442.9,59.4 444.3,62.2 445.7,64.5 447.1,67.3 448.5,69.6 449.9,72.4 451.3,74.9 452.7,74.3 454.1,74.0 455.5,73.6 456.9,72.9 458.4,73.7 459.9,74.5 461.5,74.9 463.0,75.9 465.0,88.0 466.6,89.8 468.1,92.1 469.7,93.8 471.2,96.1 472.8,98.0 474.3,100.1 475.9,101.7 477.4,103.2 479.0,105.0 480.5,106.0 482.0,107.4 483.5,108.2 485.0,109.6 487.3,112.2 488.8,113.7 490.3,115.0 491.7,115.4 493.2,117.4 494.7,118.5 496.0,120.2 497.4,122.8 498.7,126.6 500.0,127.9 501.3,129.6 502.6,129.2 503.9,131.3 505.2,132.2 506.5,131.5 507.8,131.8 509.1,132.3 510.4,134.6 511.7,133.6 513.0,135.7 514.3,133.3 515.6,133.4 516.9,131.5 518.2,131.7 519.5,129.7 522.0,136.0 525.0,142.0 528.1,150.3 530.0,156.0 532.5,161.2 535.0,152.0 539.0,148.2 542.0,155.0 545.0,152.0 547.7,159.0 548.5,178.5 551.0,172.0 553.0,174.0 556.3,169.8 558.0,180.0 560.0,176.0 562.0,187.0 564.0,178.0 566.0,191.0 570.0,180.0 573.0,191.0 577.0,181.0 580.0,191.0 584.0,183.0 587.0,191.0 591.0,181.0 594.0,191.0 597.0,183.0 600.0,191.0 603.0,182.0 606.0,191.0 610.0,180.0 613.0,191.0" fill="none" stroke="#0a8a58" stroke-width="1.5" stroke-linejoin="round" opacity="1"/>
<polyline points="408.5,24.4 409.8,26.3 411.2,28.5 412.5,30.3 413.9,32.5 415.2,34.4 416.6,36.4 417.9,38.7 419.2,40.4 420.5,42.5 421.8,44.7 423.2,46.4 424.5,48.7 425.8,50.4 427.1,52.6 428.5,55.2 429.9,57.4 431.3,60.2 432.7,62.8 434.3,66.6 435.8,69.9 437.4,74.4 438.8,76.5 440.2,80.3 441.8,82.8 443.3,83.6 444.9,86.7 446.4,87.4 448.0,91.0 449.5,91.7 451.1,93.9 452.6,98.3 454.2,99.6 455.7,103.8 457.2,105.7 458.8,108.8 460.3,112.8 461.7,113.3 463.2,114.1 464.7,119.3 466.2,121.1 467.6,121.8 469.1,120.6 470.6,121.8 472.1,124.4 473.6,131.5 475.0,131.3 476.5,133.8 478.0,140.5 479.4,138.9 480.8,142.2 482.2,148.4 483.6,146.1 485.2,154.4 486.7,147.4 488.3,154.1 489.6,152.2 491.0,155.0 492.3,161.1 493.6,158.5 494.9,167.6 496.3,171.6 497.6,167.0 499.0,174.3 500.4,191.0 501.8,181.8 503.2,191.0 504.6,191.0 505.9,184.2 507.3,191.0 508.6,191.0 510.0,194.3 511.7,191.0 513.3,185.5 515.0,174.4 516.4,184.8 517.8,180.9 519.2,190.3 520.6,186.4 522.0,195.9 523.3,184.0 524.7,191.0 526.0,191.0 527.3,191.0 528.7,177.3 530.0,184.4 531.4,179.5 532.8,187.6 534.2,189.0 535.6,191.0 537.0,191.0" fill="none" stroke="#0a8a58" stroke-width="1.5" stroke-linejoin="round" stroke-dasharray="5,1,1.5,1" opacity="1"/>
<polyline points="654.4,186.5 656.4,178.5 658.4,186.5" fill="none" stroke="#0a8a58" stroke-width="1.2" stroke-linejoin="round" opacity="1"/>
<polyline points="664.3,186.5 666.3,178.5 668.3,186.5" fill="none" stroke="#0a8a58" stroke-width="1.2" stroke-linejoin="round" opacity="1"/>
<polyline points="681.0,186.5 683.0,182.0 685.0,186.5" fill="none" stroke="#0a8a58" stroke-width="1.2" stroke-linejoin="round" opacity="1"/>
<polyline points="690.0,186.5 692.0,182.0 694.0,186.5" fill="none" stroke="#0a8a58" stroke-width="1.2" stroke-linejoin="round" opacity="1"/>
<polyline points="404.9,41.4 406.4,41.2 407.9,41.0 409.3,40.8 410.8,40.6 412.3,40.4 413.6,40.8 415.0,41.3 416.3,41.7 417.6,42.0 418.9,42.5 420.3,42.8 421.6,43.3 423.0,44.2 424.4,45.4 425.8,46.4 427.1,47.4 428.5,48.5 429.9,49.4 431.3,50.5 432.7,51.6 434.2,53.1 435.7,54.5 437.2,56.1 438.7,57.5 440.2,59.1 441.6,60.4 443.0,61.8 444.4,63.1 445.8,64.7 447.1,65.9 448.5,67.3 449.9,68.9 451.3,70.3 452.6,71.3 454.0,72.2 455.3,73.5 456.6,74.2 457.9,75.6 459.3,76.4 460.6,77.7 462.3,80.8 464.0,84.5 465.5,85.6 467.1,86.8 468.6,88.8 470.2,90.2 471.7,91.0 473.2,93.1 474.6,94.2 476.1,96.0 477.6,97.1 479.0,99.1 480.5,99.7 482.0,101.7 483.6,104.1 485.1,105.2 486.7,107.3 488.2,108.9 489.6,111.5 491.0,112.7 492.4,115.2 493.8,115.7 495.2,118.7 496.6,119.3 498.3,123.9 500.0,129.2 501.4,129.9 502.9,129.7 504.3,130.3 505.7,132.6 507.1,131.8 508.6,134.1 510.0,133.3 511.4,135.3 512.8,135.1 514.1,137.3 515.5,137.0 516.9,139.3 518.3,139.2 519.7,141.5 521.0,140.9 522.4,141.6 523.8,144.8 525.2,144.2 526.7,146.4 528.1,145.8 529.6,149.2 531.0,148.0 532.5,150.3 538.0,153.0 543.3,156.8 549.8,154.7 553.0,165.0 556.3,172.0 562.8,170.0 566.0,178.0 569.3,187.0 572.0,180.0 575.8,172.0 578.0,182.0 580.0,191.0 584.0,191.0 587.0,182.0 590.0,191.0" fill="none" stroke="#3ab8f4" stroke-width="1.5" stroke-linejoin="round" opacity="1"/>
<polyline points="409.3,61.7 410.9,63.7 412.4,65.4 414.0,68.0 415.5,69.9 417.1,73.1 418.6,76.1 420.1,77.9 421.7,82.2 423.2,84.3 424.5,87.6 425.8,88.2 427.1,92.3 428.4,92.2 429.7,96.2 431.0,96.0 432.5,101.6 434.0,102.1 435.5,105.4 437.0,111.7 439.0,115.1 440.5,120.0 442.0,120.7 443.4,120.1 444.9,124.9 446.4,124.2 447.9,125.9 449.4,131.4 450.9,129.0 452.4,136.0 453.9,133.2 455.5,141.1 457.0,139.1 458.6,146.5 460.0,144.2 461.3,150.1 462.6,147.3 464.0,151.0 466.0,154.0 468.0,157.0 470.0,152.0 472.0,160.0 474.0,156.0 476.0,165.0 478.0,160.0 480.0,170.0 482.0,166.0 484.0,176.0 486.0,172.0 488.0,182.0 490.0,178.0 492.0,191.0 496.0,191.0 498.0,180.0 500.0,191.0" fill="none" stroke="#3ab8f4" stroke-width="1.5" stroke-linejoin="round" stroke-dasharray="5,1,1.5,1" opacity="1"/>
<polyline points="409.0,62.4 410.7,66.0 412.4,69.0 413.9,73.6 415.5,76.4 417.1,78.4 418.6,77.9 420.1,79.7 421.7,79.3 423.2,80.8 424.8,83.9 426.3,85.3 427.9,85.4 429.4,89.3 431.0,89.6 432.5,93.0 434.1,93.2 435.6,96.2 436.9,95.7 438.3,99.3 439.6,98.5 440.9,100.0 442.2,103.6 443.6,104.2 444.9,103.6 446.3,107.6 447.7,106.2 449.2,110.2 450.6,109.5 452.0,113.7 453.3,112.2 454.7,116.0 456.0,113.7 457.3,117.4 458.6,119.0 460.0,117.9 461.3,122.0 462.7,118.5 464.1,121.9 465.5,118.7 466.8,119.3 468.2,123.2 469.6,122.3 471.0,119.7 472.5,122.7 474.1,124.6 475.6,130.4 477.1,131.5 478.4,130.0 479.8,136.0 481.1,131.8 482.4,139.1 483.7,136.2 485.1,141.9 486.4,141.1 488.5,144.0 490.5,141.0 493.0,150.0 495.7,156.0 498.0,152.0 501.2,167.1 503.0,158.0 505.0,161.5 506.5,170.0 508.6,172.7 510.5,166.0 512.4,170.8 514.0,178.0 516.0,183.8 518.0,191.0 522.0,191.0 524.0,176.0 526.0,191.0 531.0,191.0 533.0,178.0 535.0,191.0 555.0,191.0 558.0,176.0 561.0,191.0" fill="none" stroke="#ff8a00" stroke-width="1.5" stroke-linejoin="round" opacity="1"/>
</g>
<rect x="610" y="23.9" width="79.39999999999998" height="76.30000000000001" fill="#fff" stroke="#222" stroke-width="1.2"/>
<text x="615.3" y="37.0" font-size="9.8" font-weight="normal" text-anchor="start" fill="#000" textLength="32" lengthAdjust="spacingAndGlyphs" stroke="#333" stroke-width="0.12">-68 deg.</text>
<line x1="655.2" y1="33.7" x2="681.2" y2="33.7" stroke="#8a0fd0" stroke-width="1.7"/>
<text x="615.3" y="46.4" font-size="9.8" font-weight="normal" text-anchor="start" fill="#000" textLength="32" lengthAdjust="spacingAndGlyphs" stroke="#333" stroke-width="0.12">-30 deg.</text>
<line x1="655.2" y1="43.1" x2="681.2" y2="43.1" stroke="#8a0fd0" stroke-width="1.7" stroke-dasharray="4.5,1.8,1.2,1.8"/>
<text x="615.3" y="55.9" font-size="9.8" font-weight="normal" text-anchor="start" fill="#000" textLength="32" lengthAdjust="spacingAndGlyphs" stroke="#333" stroke-width="0.12">-21 deg.</text>
<line x1="655.2" y1="52.6" x2="681.2" y2="52.6" stroke="#0a8a58" stroke-width="1.7"/>
<text x="618.5999999999999" y="65.1" font-size="9.8" font-weight="normal" text-anchor="start" fill="#000" textLength="28.7" lengthAdjust="spacingAndGlyphs" stroke="#333" stroke-width="0.12">21 deg.</text>
<line x1="655.2" y1="61.8" x2="681.2" y2="61.8" stroke="#0a8a58" stroke-width="1.7" stroke-dasharray="4.5,1.8,1.2,1.8"/>
<text x="618.5999999999999" y="74.89999999999999" font-size="9.8" font-weight="normal" text-anchor="start" fill="#000" textLength="28.7" lengthAdjust="spacingAndGlyphs" stroke="#333" stroke-width="0.12">30 deg.</text>
<line x1="655.2" y1="71.6" x2="681.2" y2="71.6" stroke="#3ab8f4" stroke-width="1.7"/>
<text x="618.5999999999999" y="84.3" font-size="9.8" font-weight="normal" text-anchor="start" fill="#000" textLength="28.7" lengthAdjust="spacingAndGlyphs" stroke="#333" stroke-width="0.12">41 deg.</text>
<line x1="655.2" y1="81" x2="681.2" y2="81" stroke="#3ab8f4" stroke-width="1.7" stroke-dasharray="4.5,1.8,1.2,1.8"/>
<text x="618.5999999999999" y="94.0" font-size="9.8" font-weight="normal" text-anchor="start" fill="#000" textLength="28.7" lengthAdjust="spacingAndGlyphs" stroke="#333" stroke-width="0.12">52 deg.</text>
<line x1="655.2" y1="90.7" x2="681.2" y2="90.7" stroke="#ff8a00" stroke-width="1.7"/>
<line x1="44.3" y1="225.5" x2="44.3" y2="302.9" stroke="#444" stroke-width="0.9" stroke-dasharray="1,1.3"/>
<line x1="59.9" y1="225.5" x2="59.9" y2="302.9" stroke="#444" stroke-width="0.9" stroke-dasharray="1,1.3"/>
<line x1="75.5" y1="225.5" x2="75.5" y2="302.9" stroke="#444" stroke-width="0.9" stroke-dasharray="1,1.3"/>
<line x1="91.1" y1="225.5" x2="91.1" y2="302.9" stroke="#444" stroke-width="0.9" stroke-dasharray="1,1.3"/>
<line x1="106.7" y1="225.5" x2="106.7" y2="302.9" stroke="#444" stroke-width="0.9" stroke-dasharray="1,1.3"/>
<line x1="36.5" y1="244.8" x2="114.5" y2="244.8" stroke="#444" stroke-width="0.9" stroke-dasharray="1,1.3"/>
<line x1="36.5" y1="264.2" x2="114.5" y2="264.2" stroke="#444" stroke-width="0.9" stroke-dasharray="1,1.3"/>
<line x1="36.5" y1="283.5" x2="114.5" y2="283.5" stroke="#444" stroke-width="0.9" stroke-dasharray="1,1.3"/>
<rect x="36.5" y="225.5" width="78.0" height="77.39999999999998" fill="none" stroke="#777" stroke-width="1.3"/>
<text x="20.3" y="229.0" font-size="8.3" font-weight="bold" text-anchor="start" fill="#111" textLength="7.6" lengthAdjust="spacingAndGlyphs" >10</text>
<text x="28.2" y="225.514" font-size="5.644000000000001" font-weight="bold" text-anchor="start" fill="#111" textLength="5.6" lengthAdjust="spacingAndGlyphs" >12</text>
<text x="20.3" y="248.35" font-size="8.3" font-weight="bold" text-anchor="start" fill="#111" textLength="7.6" lengthAdjust="spacingAndGlyphs" >10</text>
<text x="28.2" y="244.864" font-size="5.644000000000001" font-weight="bold" text-anchor="start" fill="#111" textLength="5.6" lengthAdjust="spacingAndGlyphs" >11</text>
<text x="20.3" y="267.7" font-size="8.3" font-weight="bold" text-anchor="start" fill="#111" textLength="7.6" lengthAdjust="spacingAndGlyphs" >10</text>
<text x="28.2" y="264.214" font-size="5.644000000000001" font-weight="bold" text-anchor="start" fill="#111" textLength="5.6" lengthAdjust="spacingAndGlyphs" >10</text>
<text x="22" y="287.04999999999995" font-size="8.3" font-weight="bold" text-anchor="start" fill="#111" textLength="7.6" lengthAdjust="spacingAndGlyphs" >10</text>
<text x="29.900000000000002" y="283.56399999999996" font-size="5.644000000000001" font-weight="bold" text-anchor="start" fill="#111" textLength="3" lengthAdjust="spacingAndGlyphs" >9</text>
<text x="22" y="306.4" font-size="8.3" font-weight="bold" text-anchor="start" fill="#111" textLength="7.6" lengthAdjust="spacingAndGlyphs" >10</text>
<text x="29.900000000000002" y="302.914" font-size="5.644000000000001" font-weight="bold" text-anchor="start" fill="#111" textLength="3" lengthAdjust="spacingAndGlyphs" >8</text>
<polyline points="36.5,287.0 37.8,284.8 39.1,282.8 40.4,280.8 41.7,278.9 43.0,277.1 44.3,275.3 45.6,273.6 46.9,272.0 48.2,270.4 49.5,268.9 50.8,267.5 52.1,266.2 53.4,264.9 54.7,263.7 56.0,262.6 57.3,261.5 58.6,260.5 59.9,259.6 61.2,258.8 62.5,258.0 63.8,257.3 65.1,256.7 66.4,256.1 67.7,255.6 69.0,255.2 70.3,254.9 71.6,254.6 72.9,254.4 74.2,254.2 75.5,254.2 76.8,254.2 78.1,254.3 79.4,254.4 80.7,254.6 82.0,254.9 83.3,255.3 84.6,255.7 85.9,256.2 87.2,256.8 88.5,257.5 89.8,258.2 91.1,259.0 92.4,259.8 93.7,260.8 95.0,261.8 96.3,262.8 97.6,264.0 98.9,265.2 100.2,266.5 101.5,267.8 102.8,269.3 104.1,270.8 105.4,272.3 106.7,274.0 108.0,275.7 109.3,277.5 110.6,279.3 111.9,281.3 113.2,283.3 114.5,285.3" fill="none" stroke="#111" stroke-width="1.5" stroke-linejoin="round" stroke-dasharray="6,1,1.2,1" opacity="1"/>
<rect x="38.34" y="274.20" width="3.6" height="3.6" fill="#fff" stroke="#3ab8f4" stroke-width="1.0"/>
<rect x="38.0" y="275.2" width="4.3" height="4.3" fill="#ff8a00"/>
<rect x="58.10" y="261.20" width="3.6" height="3.6" fill="#fff" stroke="#3ab8f4" stroke-width="1.0"/>
<rect x="57.8" y="251.5" width="4.3" height="4.3" fill="#ff8a00"/>
<rect x="62.78" y="264.70" width="3.6" height="3.6" fill="#fff" stroke="#3ab8f4" stroke-width="1.0"/>
<rect x="62.4" y="255.7" width="4.3" height="4.3" fill="#ff8a00"/>
<rect x="84.62" y="259.10" width="3.6" height="3.6" fill="#fff" stroke="#3ab8f4" stroke-width="1.0"/>
<rect x="84.3" y="257.1" width="4.3" height="4.3" fill="#ff8a00"/>
<rect x="89.30" y="251.40" width="3.6" height="3.6" fill="#fff" stroke="#3ab8f4" stroke-width="1.0"/>
<rect x="88.9" y="252.0" width="4.3" height="4.3" fill="#ff8a00"/>
<rect x="95.02" y="264.70" width="3.6" height="3.6" fill="#fff" stroke="#3ab8f4" stroke-width="1.0"/>
<rect x="94.7" y="268.8" width="4.3" height="4.3" fill="#ff8a00"/>
<rect x="100.74" y="262.20" width="3.6" height="3.6" fill="#fff" stroke="#3ab8f4" stroke-width="1.0"/>
<rect x="100.4" y="270.9" width="4.3" height="4.3" fill="#ff8a00"/>
<rect x="47.4" y="290.8" width="58.50000000000001" height="8.599999999999966" fill="#fff" stroke="#666" stroke-width="0.9"/>
<rect x="49.70" y="293.50" width="3.2" height="3.2" fill="#fff" stroke="#3ab8f4" stroke-width="1.0"/>
<text x="54.8" y="298.0" font-size="8" font-weight="normal" text-anchor="start" fill="#333" textLength="18.3" lengthAdjust="spacingAndGlyphs" font-style="italic">57624</text>
<rect x="78.9" y="293.2" width="3.8" height="3.8" fill="#ff8a00"/>
<text x="84.0" y="298.0" font-size="8" font-weight="normal" text-anchor="start" fill="#333" textLength="20.6" lengthAdjust="spacingAndGlyphs" font-style="italic">57627</text>
<text x="44.3" y="312.6" font-size="7.5" font-weight="bold" text-anchor="middle" fill="#111" >-60</text>
<text x="59.9" y="312.6" font-size="7.5" font-weight="bold" text-anchor="middle" fill="#111" >-30</text>
<text x="75.5" y="312.6" font-size="7.5" font-weight="bold" text-anchor="middle" fill="#111" >0</text>
<text x="91.1" y="312.6" font-size="7.5" font-weight="bold" text-anchor="middle" fill="#111" >30</text>
<text x="106.7" y="312.6" font-size="7.5" font-weight="bold" text-anchor="middle" fill="#111" >60</text>
<text x="77.0" y="321.40000000000003" font-size="9" font-weight="bold" text-anchor="middle" fill="#111" textLength="43.5" lengthAdjust="spacingAndGlyphs" >Angle [deg]</text>
<g transform="translate(15.3,264.3) rotate(-90)">
<text x="0" y="0" font-size="9" font-weight="bold" text-anchor="middle" fill="#111" textLength="66" lengthAdjust="spacingAndGlyphs" >Electrons  [srad<tspan dy="-3" font-size="6">-1</tspan><tspan dy="3">]</tspan></text>
</g>
<line x1="154.3" y1="225.4" x2="154.3" y2="302.9" stroke="#444" stroke-width="0.9" stroke-dasharray="1,1.3"/>
<line x1="169.7" y1="225.4" x2="169.7" y2="302.9" stroke="#444" stroke-width="0.9" stroke-dasharray="1,1.3"/>
<line x1="185.1" y1="225.4" x2="185.1" y2="302.9" stroke="#444" stroke-width="0.9" stroke-dasharray="1,1.3"/>
<line x1="200.4" y1="225.4" x2="200.4" y2="302.9" stroke="#444" stroke-width="0.9" stroke-dasharray="1,1.3"/>
<line x1="215.8" y1="225.4" x2="215.8" y2="302.9" stroke="#444" stroke-width="0.9" stroke-dasharray="1,1.3"/>
<line x1="146.6" y1="244.8" x2="223.5" y2="244.8" stroke="#444" stroke-width="0.9" stroke-dasharray="1,1.3"/>
<line x1="146.6" y1="264.1" x2="223.5" y2="264.1" stroke="#444" stroke-width="0.9" stroke-dasharray="1,1.3"/>
<line x1="146.6" y1="283.5" x2="223.5" y2="283.5" stroke="#444" stroke-width="0.9" stroke-dasharray="1,1.3"/>
<rect x="146.6" y="225.4" width="76.9" height="77.49999999999997" fill="none" stroke="#777" stroke-width="1.3"/>
<text x="144.4" y="229.1" font-size="8.3" font-weight="bold" text-anchor="end" fill="#111" textLength="16.2" lengthAdjust="spacingAndGlyphs" >1000</text>
<text x="144.4" y="248.475" font-size="8.3" font-weight="bold" text-anchor="end" fill="#111" textLength="12.149999999999999" lengthAdjust="spacingAndGlyphs" >750</text>
<text x="144.4" y="267.84999999999997" font-size="8.3" font-weight="bold" text-anchor="end" fill="#111" textLength="12.149999999999999" lengthAdjust="spacingAndGlyphs" >500</text>
<text x="144.4" y="287.22499999999997" font-size="8.3" font-weight="bold" text-anchor="end" fill="#111" textLength="12.149999999999999" lengthAdjust="spacingAndGlyphs" >250</text>
<text x="144.4" y="304.2" font-size="8.3" font-weight="bold" text-anchor="end" fill="#111" textLength="4.05" lengthAdjust="spacingAndGlyphs" >0</text>
<polyline points="146.6,286.7 147.9,285.7 149.2,284.8 150.4,283.9 151.7,283.1 153.0,282.2 154.3,281.5 155.6,280.7 156.9,280.0 158.1,279.3 159.4,278.7 160.7,278.1 162.0,277.5 163.3,276.9 164.5,276.4 165.8,276.0 167.1,275.5 168.4,275.1 169.7,274.7 171.0,274.4 172.2,274.1 173.5,273.8 174.8,273.5 176.1,273.3 177.4,273.2 178.6,273.0 179.9,272.9 181.2,272.8 182.5,272.8 183.8,272.8 185.1,272.8 186.3,272.9 187.6,273.0 188.9,273.1 190.2,273.2 191.5,273.4 192.7,273.7 194.0,273.9 195.3,274.2 196.6,274.5 197.9,274.9 199.1,275.3 200.4,275.7 201.7,276.2 203.0,276.7 204.3,277.2 205.6,277.8 206.8,278.4 208.1,279.0 209.4,279.6 210.7,280.3 212.0,281.1 213.2,281.8 214.5,282.6 215.8,283.5 217.1,284.3 218.4,285.2 219.7,286.1 220.9,287.1 222.2,288.1 223.5,289.1" fill="none" stroke="#111" stroke-width="1.5" stroke-linejoin="round" stroke-dasharray="6,1,1.2,1" opacity="1"/>
<rect x="148.39" y="285.80" width="3.6" height="3.6" fill="#fff" stroke="#3ab8f4" stroke-width="1.0"/>
<rect x="148.0" y="281.2" width="4.3" height="4.3" fill="#ff8a00"/>
<rect x="167.87" y="277.70" width="3.6" height="3.6" fill="#fff" stroke="#3ab8f4" stroke-width="1.0"/>
<rect x="167.5" y="269.9" width="4.3" height="4.3" fill="#ff8a00"/>
<rect x="172.48" y="279.50" width="3.6" height="3.6" fill="#fff" stroke="#3ab8f4" stroke-width="1.0"/>
<rect x="172.1" y="275.8" width="4.3" height="4.3" fill="#ff8a00"/>
<rect x="194.02" y="278.20" width="3.6" height="3.6" fill="#fff" stroke="#3ab8f4" stroke-width="1.0"/>
<rect x="193.7" y="276.7" width="4.3" height="4.3" fill="#ff8a00"/>
<rect x="198.63" y="262.10" width="3.6" height="3.6" fill="#fff" stroke="#3ab8f4" stroke-width="1.0"/>
<rect x="198.3" y="267.8" width="4.3" height="4.3" fill="#ff8a00"/>
<rect x="204.27" y="281.40" width="3.6" height="3.6" fill="#fff" stroke="#3ab8f4" stroke-width="1.0"/>
<rect x="203.9" y="280.2" width="4.3" height="4.3" fill="#ff8a00"/>
<rect x="209.91" y="277.70" width="3.6" height="3.6" fill="#fff" stroke="#3ab8f4" stroke-width="1.0"/>
<rect x="209.6" y="281.8" width="4.3" height="4.3" fill="#ff8a00"/>
<rect x="155.8" y="291.2" width="59.5" height="7.800000000000011" fill="#fff" stroke="#666" stroke-width="0.9"/>
<rect x="158.10" y="293.50" width="3.2" height="3.2" fill="#fff" stroke="#3ab8f4" stroke-width="1.0"/>
<text x="163.20000000000002" y="298.0" font-size="8" font-weight="normal" text-anchor="start" fill="#333" textLength="18.3" lengthAdjust="spacingAndGlyphs" font-style="italic">57624</text>
<rect x="187.3" y="293.2" width="3.8" height="3.8" fill="#ff8a00"/>
<text x="192.4" y="298.0" font-size="8" font-weight="normal" text-anchor="start" fill="#333" textLength="20.6" lengthAdjust="spacingAndGlyphs" font-style="italic">57627</text>
<text x="154.29" y="312.6" font-size="7.5" font-weight="bold" text-anchor="middle" fill="#111" >-60</text>
<text x="169.67" y="312.6" font-size="7.5" font-weight="bold" text-anchor="middle" fill="#111" >-30</text>
<text x="185.05" y="312.6" font-size="7.5" font-weight="bold" text-anchor="middle" fill="#111" >0</text>
<text x="200.43" y="312.6" font-size="7.5" font-weight="bold" text-anchor="middle" fill="#111" >30</text>
<text x="215.81" y="312.6" font-size="7.5" font-weight="bold" text-anchor="middle" fill="#111" >60</text>
<text x="186.55" y="321.40000000000003" font-size="9" font-weight="bold" text-anchor="middle" fill="#111" textLength="43.5" lengthAdjust="spacingAndGlyphs" >Angle [deg]</text>
<g transform="translate(127.6,273.6) rotate(-90)">
<text x="0" y="0" font-size="9" font-weight="bold" text-anchor="middle" fill="#111" textLength="81" lengthAdjust="spacingAndGlyphs" >Electron energy [keV]</text>
</g>
<line x1="261.9" y1="225" x2="261.9" y2="302.4" stroke="#444" stroke-width="0.9" stroke-dasharray="1,1.3"/>
<line x1="277.4" y1="225" x2="277.4" y2="302.4" stroke="#444" stroke-width="0.9" stroke-dasharray="1,1.3"/>
<line x1="292.9" y1="225" x2="292.9" y2="302.4" stroke="#444" stroke-width="0.9" stroke-dasharray="1,1.3"/>
<line x1="308.4" y1="225" x2="308.4" y2="302.4" stroke="#444" stroke-width="0.9" stroke-dasharray="1,1.3"/>
<line x1="323.9" y1="225" x2="323.9" y2="302.4" stroke="#444" stroke-width="0.9" stroke-dasharray="1,1.3"/>
<line x1="254.1" y1="244.3" x2="331.7" y2="244.3" stroke="#444" stroke-width="0.9" stroke-dasharray="1,1.3"/>
<line x1="254.1" y1="263.7" x2="331.7" y2="263.7" stroke="#444" stroke-width="0.9" stroke-dasharray="1,1.3"/>
<line x1="254.1" y1="283.0" x2="331.7" y2="283.0" stroke="#444" stroke-width="0.9" stroke-dasharray="1,1.3"/>
<rect x="254.1" y="225" width="77.6" height="77.39999999999998" fill="none" stroke="#777" stroke-width="1.3"/>
<text x="251.6" y="228.7" font-size="8.3" font-weight="bold" text-anchor="end" fill="#111" textLength="12.149999999999999" lengthAdjust="spacingAndGlyphs" >100</text>
<text x="251.6" y="248.04999999999998" font-size="8.3" font-weight="bold" text-anchor="end" fill="#111" textLength="8.1" lengthAdjust="spacingAndGlyphs" >75</text>
<text x="251.6" y="267.4" font-size="8.3" font-weight="bold" text-anchor="end" fill="#111" textLength="8.1" lengthAdjust="spacingAndGlyphs" >50</text>
<text x="251.6" y="286.74999999999994" font-size="8.3" font-weight="bold" text-anchor="end" fill="#111" textLength="8.1" lengthAdjust="spacingAndGlyphs" >25</text>
<text x="251.6" y="303.7" font-size="8.3" font-weight="bold" text-anchor="end" fill="#111" textLength="4.05" lengthAdjust="spacingAndGlyphs" >0</text>
<polyline points="254.1,276.0 255.4,275.5 256.7,275.1 258.0,274.6 259.3,274.2 260.6,273.8 261.9,273.4 263.2,273.0 264.4,272.7 265.7,272.3 267.0,272.0 268.3,271.7 269.6,271.5 270.9,271.2 272.2,271.0 273.5,270.7 274.8,270.5 276.1,270.4 277.4,270.2 278.7,270.0 280.0,269.9 281.3,269.8 282.6,269.7 283.8,269.6 285.1,269.6 286.4,269.5 287.7,269.5 289.0,269.5 290.3,269.5 291.6,269.6 292.9,269.6 294.2,269.7 295.5,269.8 296.8,269.9 298.1,270.0 299.4,270.1 300.7,270.3 302.0,270.5 303.2,270.7 304.5,270.9 305.8,271.1 307.1,271.4 308.4,271.7 309.7,272.0 311.0,272.3 312.3,272.6 313.6,272.9 314.9,273.3 316.2,273.7 317.5,274.1 318.8,274.5 320.1,275.0 321.4,275.4 322.6,275.9 323.9,276.4 325.2,276.9 326.5,277.4 327.8,278.0 329.1,278.5 330.4,279.1 331.7,279.7" fill="none" stroke="#111" stroke-width="1.5" stroke-linejoin="round" stroke-dasharray="6,1,1.2,1" opacity="1"/>
<rect x="255.92" y="274.70" width="3.6" height="3.6" fill="#fff" stroke="#3ab8f4" stroke-width="1.0"/>
<rect x="255.6" y="269.5" width="4.3" height="4.3" fill="#ff8a00"/>
<rect x="275.58" y="270.50" width="3.6" height="3.6" fill="#fff" stroke="#3ab8f4" stroke-width="1.0"/>
<rect x="275.2" y="262.2" width="4.3" height="4.3" fill="#ff8a00"/>
<rect x="280.24" y="273.30" width="3.6" height="3.6" fill="#fff" stroke="#3ab8f4" stroke-width="1.0"/>
<rect x="279.9" y="265.7" width="4.3" height="4.3" fill="#ff8a00"/>
<rect x="301.96" y="278.60" width="3.6" height="3.6" fill="#fff" stroke="#3ab8f4" stroke-width="1.0"/>
<rect x="301.6" y="269.5" width="4.3" height="4.3" fill="#ff8a00"/>
<rect x="306.62" y="261.20" width="3.6" height="3.6" fill="#fff" stroke="#3ab8f4" stroke-width="1.0"/>
<rect x="306.3" y="253.8" width="4.3" height="4.3" fill="#ff8a00"/>
<rect x="312.0" y="274.4" width="4.3" height="4.3" fill="#ff8a00"/>
<rect x="318.00" y="269.40" width="3.6" height="3.6" fill="#fff" stroke="#3ab8f4" stroke-width="1.0"/>
<rect x="317.7" y="273.0" width="4.3" height="4.3" fill="#ff8a00"/>
<rect x="263.3" y="290.8" width="59.0" height="8.199999999999989" fill="#fff" stroke="#666" stroke-width="0.9"/>
<rect x="265.60" y="293.30" width="3.2" height="3.2" fill="#fff" stroke="#3ab8f4" stroke-width="1.0"/>
<text x="270.7" y="297.79999999999995" font-size="8" font-weight="normal" text-anchor="start" fill="#333" textLength="18.3" lengthAdjust="spacingAndGlyphs" font-style="italic">57624</text>
<rect x="294.8" y="293.0" width="3.8" height="3.8" fill="#ff8a00"/>
<text x="299.90000000000003" y="297.79999999999995" font-size="8" font-weight="normal" text-anchor="start" fill="#333" textLength="20.6" lengthAdjust="spacingAndGlyphs" font-style="italic">57627</text>
<text x="261.86" y="312.6" font-size="7.5" font-weight="bold" text-anchor="middle" fill="#111" >-60</text>
<text x="277.38" y="312.6" font-size="7.5" font-weight="bold" text-anchor="middle" fill="#111" >-30</text>
<text x="292.9" y="312.6" font-size="7.5" font-weight="bold" text-anchor="middle" fill="#111" >0</text>
<text x="308.41999999999996" y="312.6" font-size="7.5" font-weight="bold" text-anchor="middle" fill="#111" >30</text>
<text x="323.94" y="312.6" font-size="7.5" font-weight="bold" text-anchor="middle" fill="#111" >60</text>
<text x="294.4" y="321.40000000000003" font-size="9" font-weight="bold" text-anchor="middle" fill="#111" textLength="43.5" lengthAdjust="spacingAndGlyphs" >Angle [deg]</text>
<g transform="translate(238.9,270.6) rotate(-90)">
<text x="0" y="0" font-size="9" font-weight="bold" text-anchor="middle" fill="#111" textLength="76" lengthAdjust="spacingAndGlyphs" >Electron temp. [keV]</text>
</g>
<line x1="411.7" y1="226.3" x2="411.7" y2="303.3" stroke="#444" stroke-width="0.9" stroke-dasharray="1,1.3"/>
<line x1="427.2" y1="226.3" x2="427.2" y2="303.3" stroke="#444" stroke-width="0.9" stroke-dasharray="1,1.3"/>
<line x1="442.6" y1="226.3" x2="442.6" y2="303.3" stroke="#444" stroke-width="0.9" stroke-dasharray="1,1.3"/>
<line x1="458.1" y1="226.3" x2="458.1" y2="303.3" stroke="#444" stroke-width="0.9" stroke-dasharray="1,1.3"/>
<line x1="473.6" y1="226.3" x2="473.6" y2="303.3" stroke="#444" stroke-width="0.9" stroke-dasharray="1,1.3"/>
<line x1="404" y1="245.6" x2="481.3" y2="245.6" stroke="#444" stroke-width="0.9" stroke-dasharray="1,1.3"/>
<line x1="404" y1="264.8" x2="481.3" y2="264.8" stroke="#444" stroke-width="0.9" stroke-dasharray="1,1.3"/>
<line x1="404" y1="284.1" x2="481.3" y2="284.1" stroke="#444" stroke-width="0.9" stroke-dasharray="1,1.3"/>
<rect x="404" y="226.3" width="77.30000000000001" height="77.0" fill="none" stroke="#777" stroke-width="1.3"/>
<text x="386.1" y="229.8" font-size="8.3" font-weight="bold" text-anchor="start" fill="#111" textLength="7.6" lengthAdjust="spacingAndGlyphs" >10</text>
<text x="394.00000000000006" y="226.31400000000002" font-size="5.644000000000001" font-weight="bold" text-anchor="start" fill="#111" textLength="5.6" lengthAdjust="spacingAndGlyphs" >12</text>
<text x="386.1" y="249.05" font-size="8.3" font-weight="bold" text-anchor="start" fill="#111" textLength="7.6" lengthAdjust="spacingAndGlyphs" >10</text>
<text x="394.00000000000006" y="245.56400000000002" font-size="5.644000000000001" font-weight="bold" text-anchor="start" fill="#111" textLength="5.6" lengthAdjust="spacingAndGlyphs" >11</text>
<text x="386.1" y="268.3" font-size="8.3" font-weight="bold" text-anchor="start" fill="#111" textLength="7.6" lengthAdjust="spacingAndGlyphs" >10</text>
<text x="394.00000000000006" y="264.814" font-size="5.644000000000001" font-weight="bold" text-anchor="start" fill="#111" textLength="5.6" lengthAdjust="spacingAndGlyphs" >10</text>
<text x="387.8" y="287.55" font-size="8.3" font-weight="bold" text-anchor="start" fill="#111" textLength="7.6" lengthAdjust="spacingAndGlyphs" >10</text>
<text x="395.70000000000005" y="284.064" font-size="5.644000000000001" font-weight="bold" text-anchor="start" fill="#111" textLength="3" lengthAdjust="spacingAndGlyphs" >9</text>
<text x="387.8" y="306.8" font-size="8.3" font-weight="bold" text-anchor="start" fill="#111" textLength="7.6" lengthAdjust="spacingAndGlyphs" >10</text>
<text x="395.70000000000005" y="303.314" font-size="5.644000000000001" font-weight="bold" text-anchor="start" fill="#111" textLength="3" lengthAdjust="spacingAndGlyphs" >8</text>
<polyline points="404.0,278.1 405.3,276.4 406.6,274.7 407.9,273.1 409.2,271.6 410.4,270.2 411.7,268.8 413.0,267.5 414.3,266.2 415.6,265.0 416.9,263.9 418.2,262.9 419.5,261.9 420.7,261.0 422.0,260.1 423.3,259.3 424.6,258.6 425.9,258.0 427.2,257.4 428.5,256.9 429.8,256.4 431.1,256.0 432.3,255.7 433.6,255.5 434.9,255.3 436.2,255.2 437.5,255.1 438.8,255.1 440.1,255.2 441.4,255.4 442.6,255.6 443.9,255.9 445.2,256.2 446.5,256.6 447.8,257.1 449.1,257.7 450.4,258.3 451.7,259.0 453.0,259.7 454.2,260.5 455.5,261.4 456.8,262.4 458.1,263.4 459.4,264.5 460.7,265.6 462.0,266.9 463.3,268.1 464.6,269.5 465.8,270.9 467.1,272.4 468.4,273.9 469.7,275.6 471.0,277.3 472.3,279.0 473.6,280.8 474.9,282.7 476.1,284.7 477.4,286.7 478.7,288.8 480.0,290.9 481.3,293.1" fill="none" stroke="#111" stroke-width="1.4" stroke-linejoin="round" stroke-dasharray="7,1.2" opacity="1"/>
<polygon points="405.31,275.55 409.91,275.55 407.61,271.87" fill="#111"/>
<polygon points="405.51,274.00 409.71,274.00 407.61,277.36" fill="#b070e8" stroke="#8a0fd0" stroke-width="1"/>
<polygon points="424.89,254.55 429.49,254.55 427.19,250.87" fill="#111"/>
<polygon points="425.09,253.40 429.29,253.40 427.19,256.76" fill="#b070e8" stroke="#8a0fd0" stroke-width="1"/>
<polygon points="429.53,258.55 434.13,258.55 431.83,254.87" fill="#111"/>
<polygon points="429.73,259.10 433.93,259.10 431.83,262.46" fill="#b070e8" stroke="#8a0fd0" stroke-width="1"/>
<polygon points="451.17,263.75 455.77,263.75 453.47,260.07" fill="#111"/>
<polygon points="451.37,262.40 455.57,262.40 453.47,265.76" fill="#b070e8" stroke="#8a0fd0" stroke-width="1"/>
<polygon points="455.81,258.05 460.41,258.05 458.11,254.37" fill="#111"/>
<polygon points="456.01,257.00 460.21,257.00 458.11,260.36" fill="#b070e8" stroke="#8a0fd0" stroke-width="1"/>
<polygon points="461.48,274.55 466.08,274.55 463.78,270.87" fill="#111"/>
<polygon points="461.68,274.60 465.88,274.60 463.78,277.96" fill="#b070e8" stroke="#8a0fd0" stroke-width="1"/>
<polygon points="467.15,272.55 471.75,272.55 469.45,268.87" fill="#111"/>
<polygon points="467.35,271.60 471.55,271.60 469.45,274.96" fill="#b070e8" stroke="#8a0fd0" stroke-width="1"/>
<rect x="410.9" y="291.3" width="61.700000000000045" height="8.099999999999966" fill="#fff" stroke="#666" stroke-width="0.9"/>
<polygon points="413.70,297.15 417.90,297.15 415.80,293.79" fill="#111"/>
<text x="419.0" y="298.25" font-size="8" font-weight="normal" text-anchor="start" fill="#333" textLength="19.3" lengthAdjust="spacingAndGlyphs" >57643</text>
<polygon points="445.00,293.71 448.80,293.71 446.90,296.75" fill="#b070e8" stroke="#8a0fd0" stroke-width="1"/>
<text x="451.2" y="298.25" font-size="8" font-weight="normal" text-anchor="start" fill="#333" textLength="19.5" lengthAdjust="spacingAndGlyphs" >57645</text>
<text x="411.73" y="312.6" font-size="7.5" font-weight="bold" text-anchor="middle" fill="#111" >-60</text>
<text x="427.19" y="312.6" font-size="7.5" font-weight="bold" text-anchor="middle" fill="#111" >-30</text>
<text x="442.65" y="312.6" font-size="7.5" font-weight="bold" text-anchor="middle" fill="#111" >0</text>
<text x="458.11" y="312.6" font-size="7.5" font-weight="bold" text-anchor="middle" fill="#111" >30</text>
<text x="473.57" y="312.6" font-size="7.5" font-weight="bold" text-anchor="middle" fill="#111" >60</text>
<text x="444.15" y="321.40000000000003" font-size="9" font-weight="bold" text-anchor="middle" fill="#111" textLength="43.5" lengthAdjust="spacingAndGlyphs" >Angle [deg]</text>
<g transform="translate(382.9,267.6) rotate(-90)">
<text x="0" y="0" font-size="9" font-weight="bold" text-anchor="middle" fill="#111" textLength="65.2" lengthAdjust="spacingAndGlyphs" >Electrons  [srad<tspan dy="-3" font-size="6">-1</tspan><tspan dy="3">]</tspan></text>
</g>
<line x1="521.2" y1="226.8" x2="521.2" y2="304.1" stroke="#444" stroke-width="0.9" stroke-dasharray="1,1.3"/>
<line x1="536.7" y1="226.8" x2="536.7" y2="304.1" stroke="#444" stroke-width="0.9" stroke-dasharray="1,1.3"/>
<line x1="552.1" y1="226.8" x2="552.1" y2="304.1" stroke="#444" stroke-width="0.9" stroke-dasharray="1,1.3"/>
<line x1="567.5" y1="226.8" x2="567.5" y2="304.1" stroke="#444" stroke-width="0.9" stroke-dasharray="1,1.3"/>
<line x1="583.0" y1="226.8" x2="583.0" y2="304.1" stroke="#444" stroke-width="0.9" stroke-dasharray="1,1.3"/>
<line x1="513.5" y1="246.1" x2="590.7" y2="246.1" stroke="#444" stroke-width="0.9" stroke-dasharray="1,1.3"/>
<line x1="513.5" y1="265.5" x2="590.7" y2="265.5" stroke="#444" stroke-width="0.9" stroke-dasharray="1,1.3"/>
<line x1="513.5" y1="284.8" x2="590.7" y2="284.8" stroke="#444" stroke-width="0.9" stroke-dasharray="1,1.3"/>
<rect x="513.5" y="226.8" width="77.20000000000005" height="77.30000000000001" fill="none" stroke="#777" stroke-width="1.3"/>
<text x="512" y="230.5" font-size="8.3" font-weight="bold" text-anchor="end" fill="#111" textLength="16.2" lengthAdjust="spacingAndGlyphs" >1000</text>
<text x="512" y="249.825" font-size="8.3" font-weight="bold" text-anchor="end" fill="#111" textLength="12.149999999999999" lengthAdjust="spacingAndGlyphs" >750</text>
<text x="512" y="269.15000000000003" font-size="8.3" font-weight="bold" text-anchor="end" fill="#111" textLength="12.149999999999999" lengthAdjust="spacingAndGlyphs" >500</text>
<text x="512" y="288.475" font-size="8.3" font-weight="bold" text-anchor="end" fill="#111" textLength="12.149999999999999" lengthAdjust="spacingAndGlyphs" >250</text>
<text x="512" y="305.40000000000003" font-size="8.3" font-weight="bold" text-anchor="end" fill="#111" textLength="4.05" lengthAdjust="spacingAndGlyphs" >0</text>
<polyline points="513.5,287.6 514.8,287.1 516.1,286.6 517.4,286.2 518.6,285.7 519.9,285.3 521.2,284.9 522.5,284.6 523.8,284.2 525.1,283.9 526.4,283.5 527.7,283.2 528.9,283.0 530.2,282.7 531.5,282.5 532.8,282.2 534.1,282.0 535.4,281.8 536.7,281.7 537.9,281.5 539.2,281.4 540.5,281.3 541.8,281.2 543.1,281.1 544.4,281.1 545.7,281.0 547.0,281.0 548.2,281.0 549.5,281.1 550.8,281.1 552.1,281.2 553.4,281.2 554.7,281.3 556.0,281.5 557.2,281.6 558.5,281.8 559.8,281.9 561.1,282.1 562.4,282.4 563.7,282.6 565.0,282.8 566.3,283.1 567.5,283.4 568.8,283.7 570.1,284.1 571.4,284.4 572.7,284.8 574.0,285.2 575.3,285.6 576.5,286.0 577.8,286.4 579.1,286.9 580.4,287.4 581.7,287.9 583.0,288.4 584.3,289.0 585.6,289.5 586.8,290.1 588.1,290.7 589.4,291.3 590.7,292.0" fill="none" stroke="#111" stroke-width="1.5" stroke-linejoin="round" stroke-dasharray="6,1,1.2,1" opacity="1"/>
<polygon points="514.80,288.55 519.40,288.55 517.10,284.87" fill="#111"/>
<polygon points="515.00,287.00 519.20,287.00 517.10,290.36" fill="#b070e8" stroke="#8a0fd0" stroke-width="1"/>
<polygon points="534.36,275.55 538.96,275.55 536.66,271.87" fill="#111"/>
<polygon points="534.56,278.50 538.76,278.50 536.66,281.86" fill="#b070e8" stroke="#8a0fd0" stroke-width="1"/>
<polygon points="538.99,282.95 543.59,282.95 541.29,279.27" fill="#111"/>
<polygon points="539.19,282.70 543.39,282.70 541.29,286.06" fill="#b070e8" stroke="#8a0fd0" stroke-width="1"/>
<polygon points="560.61,288.05 565.21,288.05 562.91,284.37" fill="#111"/>
<polygon points="560.81,286.70 565.01,286.70 562.91,290.06" fill="#b070e8" stroke="#8a0fd0" stroke-width="1"/>
<polygon points="565.24,276.95 569.84,276.95 567.54,273.27" fill="#111"/>
<polygon points="565.44,280.30 569.64,280.30 567.54,283.66" fill="#b070e8" stroke="#8a0fd0" stroke-width="1"/>
<polygon points="570.90,288.75 575.50,288.75 573.20,285.07" fill="#111"/>
<polygon points="571.10,287.40 575.30,287.40 573.20,290.76" fill="#b070e8" stroke="#8a0fd0" stroke-width="1"/>
<polygon points="576.56,285.75 581.16,285.75 578.86,282.07" fill="#111"/>
<polygon points="576.76,284.60 580.96,284.60 578.86,287.96" fill="#b070e8" stroke="#8a0fd0" stroke-width="1"/>
<rect x="520.4" y="292.6" width="62.39999999999998" height="8.099999999999966" fill="#fff" stroke="#666" stroke-width="0.9"/>
<polygon points="523.20,298.45 527.40,298.45 525.30,295.09" fill="#111"/>
<text x="528.5" y="299.54999999999995" font-size="8" font-weight="normal" text-anchor="start" fill="#333" textLength="19.3" lengthAdjust="spacingAndGlyphs" >57643</text>
<polygon points="554.50,295.01 558.30,295.01 556.40,298.05" fill="#b070e8" stroke="#8a0fd0" stroke-width="1"/>
<text x="560.6999999999999" y="299.54999999999995" font-size="8" font-weight="normal" text-anchor="start" fill="#333" textLength="19.5" lengthAdjust="spacingAndGlyphs" >57645</text>
<text x="521.22" y="312.6" font-size="7.5" font-weight="bold" text-anchor="middle" fill="#111" >-60</text>
<text x="536.66" y="312.6" font-size="7.5" font-weight="bold" text-anchor="middle" fill="#111" >-30</text>
<text x="552.1" y="312.6" font-size="7.5" font-weight="bold" text-anchor="middle" fill="#111" >0</text>
<text x="567.5400000000001" y="312.6" font-size="7.5" font-weight="bold" text-anchor="middle" fill="#111" >30</text>
<text x="582.98" y="312.6" font-size="7.5" font-weight="bold" text-anchor="middle" fill="#111" >60</text>
<text x="553.6" y="321.40000000000003" font-size="9" font-weight="bold" text-anchor="middle" fill="#111" textLength="43.5" lengthAdjust="spacingAndGlyphs" >Angle [deg]</text>
<g transform="translate(496.2,273.6) rotate(-90)">
<text x="0" y="0" font-size="9" font-weight="bold" text-anchor="middle" fill="#111" textLength="81" lengthAdjust="spacingAndGlyphs" >Electron energy [keV]</text>
</g>
<line x1="627.1" y1="224.6" x2="627.1" y2="302.9" stroke="#444" stroke-width="0.9" stroke-dasharray="1,1.3"/>
<line x1="642.6" y1="224.6" x2="642.6" y2="302.9" stroke="#444" stroke-width="0.9" stroke-dasharray="1,1.3"/>
<line x1="658.1" y1="224.6" x2="658.1" y2="302.9" stroke="#444" stroke-width="0.9" stroke-dasharray="1,1.3"/>
<line x1="673.7" y1="224.6" x2="673.7" y2="302.9" stroke="#444" stroke-width="0.9" stroke-dasharray="1,1.3"/>
<line x1="689.2" y1="224.6" x2="689.2" y2="302.9" stroke="#444" stroke-width="0.9" stroke-dasharray="1,1.3"/>
<line x1="619.3" y1="244.2" x2="697" y2="244.2" stroke="#444" stroke-width="0.9" stroke-dasharray="1,1.3"/>
<line x1="619.3" y1="263.8" x2="697" y2="263.8" stroke="#444" stroke-width="0.9" stroke-dasharray="1,1.3"/>
<line x1="619.3" y1="283.3" x2="697" y2="283.3" stroke="#444" stroke-width="0.9" stroke-dasharray="1,1.3"/>
<rect x="619.3" y="224.6" width="77.70000000000005" height="78.29999999999998" fill="none" stroke="#777" stroke-width="1.3"/>
<text x="617" y="228.29999999999998" font-size="8.3" font-weight="bold" text-anchor="end" fill="#111" textLength="12.149999999999999" lengthAdjust="spacingAndGlyphs" >100</text>
<text x="617" y="247.87499999999997" font-size="8.3" font-weight="bold" text-anchor="end" fill="#111" textLength="8.1" lengthAdjust="spacingAndGlyphs" >75</text>
<text x="617" y="267.45" font-size="8.3" font-weight="bold" text-anchor="end" fill="#111" textLength="8.1" lengthAdjust="spacingAndGlyphs" >50</text>
<text x="617" y="287.025" font-size="8.3" font-weight="bold" text-anchor="end" fill="#111" textLength="8.1" lengthAdjust="spacingAndGlyphs" >25</text>
<text x="617" y="304.2" font-size="8.3" font-weight="bold" text-anchor="end" fill="#111" textLength="4.05" lengthAdjust="spacingAndGlyphs" >0</text>
<polyline points="619.3,280.9 620.6,280.6 621.9,280.2 623.2,279.9 624.5,279.6 625.8,279.3 627.1,279.0 628.4,278.7 629.7,278.5 631.0,278.3 632.2,278.0 633.5,277.8 634.8,277.6 636.1,277.4 637.4,277.2 638.7,277.1 640.0,276.9 641.3,276.8 642.6,276.7 643.9,276.6 645.2,276.5 646.5,276.4 647.8,276.3 649.1,276.2 650.4,276.2 651.7,276.2 653.0,276.1 654.3,276.1 655.6,276.1 656.9,276.1 658.1,276.2 659.4,276.2 660.7,276.3 662.0,276.4 663.3,276.4 664.6,276.5 665.9,276.6 667.2,276.8 668.5,276.9 669.8,277.0 671.1,277.2 672.4,277.4 673.7,277.6 675.0,277.8 676.3,278.0 677.6,278.2 678.9,278.4 680.2,278.7 681.5,279.0 682.8,279.2 684.0,279.5 685.3,279.8 686.6,280.2 687.9,280.5 689.2,280.8 690.5,281.2 691.8,281.6 693.1,281.9 694.4,282.3 695.7,282.7 697.0,283.2" fill="none" stroke="#111" stroke-width="1.5" stroke-linejoin="round" stroke-dasharray="6,1,1.2,1" opacity="1"/>
<polygon points="620.63,283.25 625.23,283.25 622.93,279.57" fill="#111"/>
<polygon points="620.83,281.60 625.03,281.60 622.93,284.96" fill="#b070e8" stroke="#8a0fd0" stroke-width="1"/>
<polygon points="640.31,270.55 644.91,270.55 642.61,266.87" fill="#111"/>
<polygon points="640.51,272.10 644.71,272.10 642.61,275.46" fill="#b070e8" stroke="#8a0fd0" stroke-width="1"/>
<polygon points="644.97,275.75 649.57,275.75 647.27,272.07" fill="#111"/>
<polygon points="645.17,277.70 649.37,277.70 647.27,281.06" fill="#b070e8" stroke="#8a0fd0" stroke-width="1"/>
<polygon points="666.73,284.35 671.33,284.35 669.03,280.67" fill="#111"/>
<polygon points="666.93,282.90 671.13,282.90 669.03,286.26" fill="#b070e8" stroke="#8a0fd0" stroke-width="1"/>
<polygon points="671.39,272.75 675.99,272.75 673.69,269.07" fill="#111"/>
<polygon points="671.59,271.40 675.79,271.40 673.69,274.76" fill="#b070e8" stroke="#8a0fd0" stroke-width="1"/>
<polygon points="677.09,284.05 681.69,284.05 679.39,280.37" fill="#111"/>
<polygon points="677.29,282.80 681.49,282.80 679.39,286.16" fill="#b070e8" stroke="#8a0fd0" stroke-width="1"/>
<polygon points="682.79,275.75 687.39,275.75 685.09,272.07" fill="#111"/>
<polygon points="682.99,274.40 687.19,274.40 685.09,277.76" fill="#b070e8" stroke="#8a0fd0" stroke-width="1"/>
<rect x="627.7" y="291.7" width="62.0" height="7.699999999999989" fill="#fff" stroke="#666" stroke-width="0.9"/>
<polygon points="630.50,297.35 634.70,297.35 632.60,293.99" fill="#111"/>
<text x="635.8000000000001" y="298.44999999999993" font-size="8" font-weight="normal" text-anchor="start" fill="#333" textLength="19.3" lengthAdjust="spacingAndGlyphs" >57643</text>
<polygon points="661.80,293.91 665.60,293.91 663.70,296.95" fill="#b070e8" stroke="#8a0fd0" stroke-width="1"/>
<text x="668.0" y="298.44999999999993" font-size="8" font-weight="normal" text-anchor="start" fill="#333" textLength="19.5" lengthAdjust="spacingAndGlyphs" >57645</text>
<text x="627.0699999999999" y="312.6" font-size="7.5" font-weight="bold" text-anchor="middle" fill="#111" >-60</text>
<text x="642.61" y="312.6" font-size="7.5" font-weight="bold" text-anchor="middle" fill="#111" >-30</text>
<text x="658.15" y="312.6" font-size="7.5" font-weight="bold" text-anchor="middle" fill="#111" >0</text>
<text x="673.6899999999999" y="312.6" font-size="7.5" font-weight="bold" text-anchor="middle" fill="#111" >30</text>
<text x="689.23" y="312.6" font-size="7.5" font-weight="bold" text-anchor="middle" fill="#111" >60</text>
<text x="659.65" y="321.40000000000003" font-size="9" font-weight="bold" text-anchor="middle" fill="#111" textLength="43.5" lengthAdjust="spacingAndGlyphs" >Angle [deg]</text>
<g transform="translate(603.9,268.8) rotate(-90)">
<text x="0" y="0" font-size="9" font-weight="bold" text-anchor="middle" fill="#111" textLength="76" lengthAdjust="spacingAndGlyphs" >Electron temp. [keV]</text>
</g>
</svg></body></html>
